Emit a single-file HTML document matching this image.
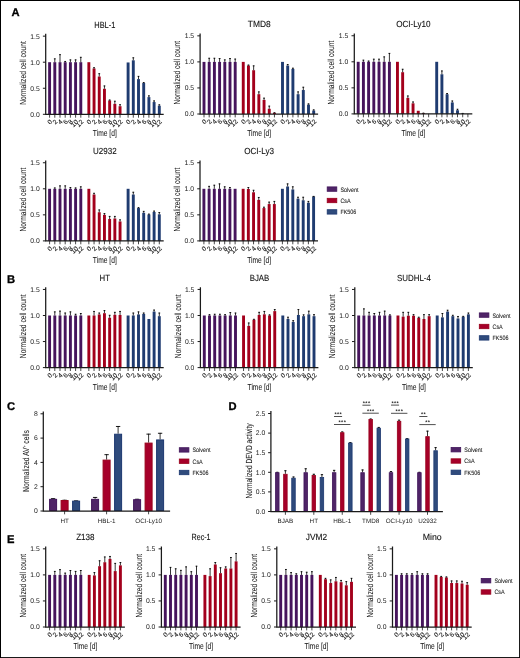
<!DOCTYPE html>
<html><head><meta charset="utf-8"><style>
html,body{margin:0;padding:0;background:#fff;overflow:hidden;}
svg{display:block;will-change:transform;}
text{font-family:"Liberation Sans", sans-serif;fill:#1c1c1c;text-rendering:geometricPrecision;}
.tk{font-size:6.8px;}
.gl{font-size:6.3px;}
.xt{font-size:6.5px;stroke:#1c1c1c;stroke-width:0.12px;}
.ti{font-size:8.9px;fill:#111;stroke:#111;stroke-width:0.1px;}
.al{font-size:8.8px;stroke:#1c1c1c;stroke-width:0.06px;}
.lg{font-size:6.3px;stroke:#1c1c1c;stroke-width:0.08px;}
.pl{font-size:11.2px;font-weight:bold;fill:#000;stroke:#000;stroke-width:0.3px;}
.st{font-size:5.5px;font-weight:bold;fill:#111;letter-spacing:0.45px;}
</style></head><body>
<svg width="520" height="658" viewBox="0 0 520 658">
<rect x="0" y="0" width="520" height="658" fill="#000"/>
<rect x="1" y="1" width="518.1" height="656.1" fill="#fff"/>
<text x="11.4" y="16.3" class="pl">A</text>
<text x="7" y="283.4" class="pl">B</text>
<text x="6.9" y="410" class="pl">C</text>
<text x="228.5" y="410.1" class="pl">D</text>
<text x="7.1" y="542.5" class="pl">E</text>
<rect x="48.15" y="62.2" width="2.9" height="52.1" fill="#46145c"/>
<rect x="53.35" y="62.2" width="2.9" height="52.1" fill="#46145c"/>
<line x1="54.8" y1="58.55" x2="54.8" y2="62.2" stroke="#000" stroke-width="0.8"/>
<line x1="53.9" y1="58.85" x2="55.7" y2="58.85" stroke="#000" stroke-width="0.9"/>
<rect x="58.55" y="62.2" width="2.9" height="52.1" fill="#46145c"/>
<line x1="60" y1="54.38" x2="60" y2="62.2" stroke="#000" stroke-width="0.8"/>
<line x1="59.1" y1="54.68" x2="60.9" y2="54.68" stroke="#000" stroke-width="0.9"/>
<rect x="63.75" y="62.2" width="2.9" height="52.1" fill="#46145c"/>
<line x1="65.2" y1="61.16" x2="65.2" y2="62.2" stroke="#000" stroke-width="0.8"/>
<line x1="64.3" y1="61.46" x2="66.1" y2="61.46" stroke="#000" stroke-width="0.9"/>
<rect x="68.95" y="62.2" width="2.9" height="52.1" fill="#46145c"/>
<line x1="70.4" y1="59.59" x2="70.4" y2="62.2" stroke="#000" stroke-width="0.8"/>
<line x1="69.5" y1="59.89" x2="71.3" y2="59.89" stroke="#000" stroke-width="0.9"/>
<rect x="74.15" y="62.2" width="2.9" height="52.1" fill="#46145c"/>
<line x1="75.6" y1="59.59" x2="75.6" y2="62.2" stroke="#000" stroke-width="0.8"/>
<line x1="74.7" y1="59.89" x2="76.5" y2="59.89" stroke="#000" stroke-width="0.9"/>
<rect x="79.35" y="62.2" width="2.9" height="52.1" fill="#46145c"/>
<line x1="80.8" y1="56.99" x2="80.8" y2="62.2" stroke="#000" stroke-width="0.8"/>
<line x1="79.9" y1="57.29" x2="81.7" y2="57.29" stroke="#000" stroke-width="0.9"/>
<rect x="87.4" y="62.2" width="2.9" height="52.1" fill="#a3001c"/>
<rect x="92.6" y="68.45" width="2.9" height="45.85" fill="#a3001c"/>
<line x1="94.05" y1="67.41" x2="94.05" y2="68.45" stroke="#000" stroke-width="0.8"/>
<line x1="93.15" y1="67.71" x2="94.95" y2="67.71" stroke="#000" stroke-width="0.9"/>
<rect x="97.8" y="76.53" width="2.9" height="37.77" fill="#a3001c"/>
<line x1="99.25" y1="73.4" x2="99.25" y2="76.53" stroke="#000" stroke-width="0.8"/>
<line x1="98.35" y1="73.7" x2="100.15" y2="73.7" stroke="#000" stroke-width="0.9"/>
<rect x="103" y="88.77" width="2.9" height="25.53" fill="#a3001c"/>
<line x1="104.45" y1="85.64" x2="104.45" y2="88.77" stroke="#000" stroke-width="0.8"/>
<line x1="103.55" y1="85.94" x2="105.35" y2="85.94" stroke="#000" stroke-width="0.9"/>
<rect x="108.2" y="100.49" width="2.9" height="13.81" fill="#a3001c"/>
<line x1="109.65" y1="99.71" x2="109.65" y2="100.49" stroke="#000" stroke-width="0.8"/>
<line x1="108.75" y1="100.01" x2="110.55" y2="100.01" stroke="#000" stroke-width="0.9"/>
<rect x="113.4" y="103.88" width="2.9" height="10.42" fill="#a3001c"/>
<line x1="114.85" y1="100.91" x2="114.85" y2="103.88" stroke="#000" stroke-width="0.8"/>
<line x1="113.95" y1="101.21" x2="115.75" y2="101.21" stroke="#000" stroke-width="0.9"/>
<rect x="118.6" y="106.22" width="2.9" height="8.08" fill="#a3001c"/>
<line x1="120.05" y1="104.4" x2="120.05" y2="106.22" stroke="#000" stroke-width="0.8"/>
<line x1="119.15" y1="104.7" x2="120.95" y2="104.7" stroke="#000" stroke-width="0.9"/>
<rect x="126.65" y="62.46" width="2.9" height="51.84" fill="#1f3b70"/>
<rect x="131.85" y="60.32" width="2.9" height="53.98" fill="#1f3b70"/>
<line x1="133.3" y1="57.51" x2="133.3" y2="60.32" stroke="#000" stroke-width="0.8"/>
<line x1="132.4" y1="57.81" x2="134.2" y2="57.81" stroke="#000" stroke-width="0.9"/>
<rect x="137.05" y="79.13" width="2.9" height="35.17" fill="#1f3b70"/>
<line x1="138.5" y1="76.06" x2="138.5" y2="79.13" stroke="#000" stroke-width="0.8"/>
<line x1="137.6" y1="76.36" x2="139.4" y2="76.36" stroke="#000" stroke-width="0.9"/>
<rect x="142.25" y="83.04" width="2.9" height="31.26" fill="#1f3b70"/>
<line x1="143.7" y1="82.26" x2="143.7" y2="83.04" stroke="#000" stroke-width="0.8"/>
<line x1="142.8" y1="82.56" x2="144.6" y2="82.56" stroke="#000" stroke-width="0.9"/>
<rect x="147.45" y="97.11" width="2.9" height="17.19" fill="#1f3b70"/>
<line x1="148.9" y1="95.54" x2="148.9" y2="97.11" stroke="#000" stroke-width="0.8"/>
<line x1="148" y1="95.84" x2="149.8" y2="95.84" stroke="#000" stroke-width="0.9"/>
<rect x="152.65" y="102.06" width="2.9" height="12.24" fill="#1f3b70"/>
<line x1="154.1" y1="100.6" x2="154.1" y2="102.06" stroke="#000" stroke-width="0.8"/>
<line x1="153.2" y1="100.9" x2="155" y2="100.9" stroke="#000" stroke-width="0.9"/>
<rect x="157.85" y="105.7" width="2.9" height="8.6" fill="#1f3b70"/>
<line x1="159.3" y1="104.51" x2="159.3" y2="105.7" stroke="#000" stroke-width="0.8"/>
<line x1="158.4" y1="104.81" x2="160.2" y2="104.81" stroke="#000" stroke-width="0.9"/>
<path d="M45.7 33.85V114.3H163.7" fill="none" stroke="#1a1a1a" stroke-width="1.25"/>
<line x1="42.9" y1="114.3" x2="45.7" y2="114.3" stroke="#1a1a1a" stroke-width="1"/>
<text x="39.7" y="116.7" class="tk" text-anchor="end">0.0</text>
<line x1="42.9" y1="88.25" x2="45.7" y2="88.25" stroke="#1a1a1a" stroke-width="1"/>
<text x="39.7" y="90.65" class="tk" text-anchor="end">0.5</text>
<line x1="42.9" y1="62.2" x2="45.7" y2="62.2" stroke="#1a1a1a" stroke-width="1"/>
<text x="39.7" y="64.6" class="tk" text-anchor="end">1.0</text>
<line x1="42.9" y1="36.15" x2="45.7" y2="36.15" stroke="#1a1a1a" stroke-width="1"/>
<text x="39.7" y="38.55" class="tk" text-anchor="end">1.5</text>
<line x1="49.6" y1="114.3" x2="49.6" y2="117.7" stroke="#1a1a1a" stroke-width="0.8"/>
<text class="xt" text-anchor="end" transform="translate(52.6 122.3) rotate(-45)">0</text>
<line x1="54.8" y1="114.3" x2="54.8" y2="117.7" stroke="#1a1a1a" stroke-width="0.8"/>
<text class="xt" text-anchor="end" transform="translate(57.8 122.3) rotate(-45)">2</text>
<line x1="60" y1="114.3" x2="60" y2="117.7" stroke="#1a1a1a" stroke-width="0.8"/>
<text class="xt" text-anchor="end" transform="translate(63 122.3) rotate(-45)">4</text>
<line x1="65.2" y1="114.3" x2="65.2" y2="117.7" stroke="#1a1a1a" stroke-width="0.8"/>
<text class="xt" text-anchor="end" transform="translate(68.2 122.3) rotate(-45)">6</text>
<line x1="70.4" y1="114.3" x2="70.4" y2="117.7" stroke="#1a1a1a" stroke-width="0.8"/>
<text class="xt" text-anchor="end" transform="translate(73.4 122.3) rotate(-45)">8</text>
<line x1="75.6" y1="114.3" x2="75.6" y2="117.7" stroke="#1a1a1a" stroke-width="0.8"/>
<text class="xt" text-anchor="end" transform="translate(78.6 122.3) rotate(-45)">10</text>
<line x1="80.8" y1="114.3" x2="80.8" y2="117.7" stroke="#1a1a1a" stroke-width="0.8"/>
<text class="xt" text-anchor="end" transform="translate(83.8 122.3) rotate(-45)">12</text>
<line x1="88.85" y1="114.3" x2="88.85" y2="117.7" stroke="#1a1a1a" stroke-width="0.8"/>
<text class="xt" text-anchor="end" transform="translate(91.85 122.3) rotate(-45)">0</text>
<line x1="94.05" y1="114.3" x2="94.05" y2="117.7" stroke="#1a1a1a" stroke-width="0.8"/>
<text class="xt" text-anchor="end" transform="translate(97.05 122.3) rotate(-45)">2</text>
<line x1="99.25" y1="114.3" x2="99.25" y2="117.7" stroke="#1a1a1a" stroke-width="0.8"/>
<text class="xt" text-anchor="end" transform="translate(102.25 122.3) rotate(-45)">4</text>
<line x1="104.45" y1="114.3" x2="104.45" y2="117.7" stroke="#1a1a1a" stroke-width="0.8"/>
<text class="xt" text-anchor="end" transform="translate(107.45 122.3) rotate(-45)">6</text>
<line x1="109.65" y1="114.3" x2="109.65" y2="117.7" stroke="#1a1a1a" stroke-width="0.8"/>
<text class="xt" text-anchor="end" transform="translate(112.65 122.3) rotate(-45)">8</text>
<line x1="114.85" y1="114.3" x2="114.85" y2="117.7" stroke="#1a1a1a" stroke-width="0.8"/>
<text class="xt" text-anchor="end" transform="translate(117.85 122.3) rotate(-45)">10</text>
<line x1="120.05" y1="114.3" x2="120.05" y2="117.7" stroke="#1a1a1a" stroke-width="0.8"/>
<text class="xt" text-anchor="end" transform="translate(123.05 122.3) rotate(-45)">12</text>
<line x1="128.1" y1="114.3" x2="128.1" y2="117.7" stroke="#1a1a1a" stroke-width="0.8"/>
<text class="xt" text-anchor="end" transform="translate(131.1 122.3) rotate(-45)">0</text>
<line x1="133.3" y1="114.3" x2="133.3" y2="117.7" stroke="#1a1a1a" stroke-width="0.8"/>
<text class="xt" text-anchor="end" transform="translate(136.3 122.3) rotate(-45)">2</text>
<line x1="138.5" y1="114.3" x2="138.5" y2="117.7" stroke="#1a1a1a" stroke-width="0.8"/>
<text class="xt" text-anchor="end" transform="translate(141.5 122.3) rotate(-45)">4</text>
<line x1="143.7" y1="114.3" x2="143.7" y2="117.7" stroke="#1a1a1a" stroke-width="0.8"/>
<text class="xt" text-anchor="end" transform="translate(146.7 122.3) rotate(-45)">6</text>
<line x1="148.9" y1="114.3" x2="148.9" y2="117.7" stroke="#1a1a1a" stroke-width="0.8"/>
<text class="xt" text-anchor="end" transform="translate(151.9 122.3) rotate(-45)">8</text>
<line x1="154.1" y1="114.3" x2="154.1" y2="117.7" stroke="#1a1a1a" stroke-width="0.8"/>
<text class="xt" text-anchor="end" transform="translate(157.1 122.3) rotate(-45)">10</text>
<line x1="159.3" y1="114.3" x2="159.3" y2="117.7" stroke="#1a1a1a" stroke-width="0.8"/>
<text class="xt" text-anchor="end" transform="translate(162.3 122.3) rotate(-45)">12</text>
<text class="ti" x="104.8" y="27.7" text-anchor="middle" textLength="21.1" lengthAdjust="spacingAndGlyphs">HBL-1</text>
<text x="104.8" y="136.3" class="al" text-anchor="middle" textLength="23.9" lengthAdjust="spacingAndGlyphs">Time [d]</text>
<text class="al" text-anchor="middle" textLength="63.7" lengthAdjust="spacingAndGlyphs" transform="translate(25.8 73) rotate(-90)">Normalized cell count</text>
<rect x="202.55" y="61.9" width="2.9" height="52.1" fill="#46145c"/>
<rect x="207.75" y="61.9" width="2.9" height="52.1" fill="#46145c"/>
<line x1="209.2" y1="57.94" x2="209.2" y2="61.9" stroke="#000" stroke-width="0.8"/>
<line x1="208.3" y1="58.24" x2="210.1" y2="58.24" stroke="#000" stroke-width="0.9"/>
<rect x="212.95" y="61.9" width="2.9" height="52.1" fill="#46145c"/>
<line x1="214.4" y1="57.94" x2="214.4" y2="61.9" stroke="#000" stroke-width="0.8"/>
<line x1="213.5" y1="58.24" x2="215.3" y2="58.24" stroke="#000" stroke-width="0.9"/>
<rect x="218.15" y="61.9" width="2.9" height="52.1" fill="#46145c"/>
<line x1="219.6" y1="58.25" x2="219.6" y2="61.9" stroke="#000" stroke-width="0.8"/>
<line x1="218.7" y1="58.55" x2="220.5" y2="58.55" stroke="#000" stroke-width="0.9"/>
<rect x="223.35" y="61.9" width="2.9" height="52.1" fill="#46145c"/>
<line x1="224.8" y1="59.56" x2="224.8" y2="61.9" stroke="#000" stroke-width="0.8"/>
<line x1="223.9" y1="59.86" x2="225.7" y2="59.86" stroke="#000" stroke-width="0.9"/>
<rect x="228.55" y="61.9" width="2.9" height="52.1" fill="#46145c"/>
<line x1="230" y1="58.25" x2="230" y2="61.9" stroke="#000" stroke-width="0.8"/>
<line x1="229.1" y1="58.55" x2="230.9" y2="58.55" stroke="#000" stroke-width="0.9"/>
<rect x="233.75" y="61.9" width="2.9" height="52.1" fill="#46145c"/>
<line x1="235.2" y1="58.77" x2="235.2" y2="61.9" stroke="#000" stroke-width="0.8"/>
<line x1="234.3" y1="59.07" x2="236.1" y2="59.07" stroke="#000" stroke-width="0.9"/>
<rect x="241.8" y="61.9" width="2.9" height="52.1" fill="#a3001c"/>
<rect x="247" y="65.55" width="2.9" height="48.45" fill="#a3001c"/>
<line x1="248.45" y1="64.77" x2="248.45" y2="65.55" stroke="#000" stroke-width="0.8"/>
<line x1="247.55" y1="65.07" x2="249.35" y2="65.07" stroke="#000" stroke-width="0.9"/>
<rect x="252.2" y="70.24" width="2.9" height="43.76" fill="#a3001c"/>
<line x1="253.65" y1="65.55" x2="253.65" y2="70.24" stroke="#000" stroke-width="0.8"/>
<line x1="252.75" y1="65.85" x2="254.55" y2="65.85" stroke="#000" stroke-width="0.9"/>
<rect x="257.4" y="94.2" width="2.9" height="19.8" fill="#a3001c"/>
<line x1="258.85" y1="91.6" x2="258.85" y2="94.2" stroke="#000" stroke-width="0.8"/>
<line x1="257.95" y1="91.9" x2="259.75" y2="91.9" stroke="#000" stroke-width="0.9"/>
<rect x="262.6" y="99.93" width="2.9" height="14.07" fill="#a3001c"/>
<line x1="264.05" y1="97.85" x2="264.05" y2="99.93" stroke="#000" stroke-width="0.8"/>
<line x1="263.15" y1="98.15" x2="264.95" y2="98.15" stroke="#000" stroke-width="0.9"/>
<rect x="267.8" y="108.79" width="2.9" height="5.21" fill="#a3001c"/>
<line x1="269.25" y1="105.82" x2="269.25" y2="108.79" stroke="#000" stroke-width="0.8"/>
<line x1="268.35" y1="106.12" x2="270.15" y2="106.12" stroke="#000" stroke-width="0.9"/>
<rect x="273" y="112.85" width="2.9" height="1.15" fill="#a3001c"/>
<line x1="274.45" y1="112.44" x2="274.45" y2="112.85" stroke="#000" stroke-width="0.8"/>
<line x1="273.55" y1="112.74" x2="275.35" y2="112.74" stroke="#000" stroke-width="0.9"/>
<rect x="281.05" y="61.9" width="2.9" height="52.1" fill="#1f3b70"/>
<rect x="286.25" y="65.55" width="2.9" height="48.45" fill="#1f3b70"/>
<line x1="287.7" y1="64.24" x2="287.7" y2="65.55" stroke="#000" stroke-width="0.8"/>
<line x1="286.8" y1="64.54" x2="288.6" y2="64.54" stroke="#000" stroke-width="0.9"/>
<rect x="291.45" y="68.88" width="2.9" height="45.12" fill="#1f3b70"/>
<line x1="292.9" y1="67.89" x2="292.9" y2="68.88" stroke="#000" stroke-width="0.8"/>
<line x1="292" y1="68.19" x2="293.8" y2="68.19" stroke="#000" stroke-width="0.9"/>
<rect x="296.65" y="94.2" width="2.9" height="19.8" fill="#1f3b70"/>
<line x1="298.1" y1="91.6" x2="298.1" y2="94.2" stroke="#000" stroke-width="0.8"/>
<line x1="297.2" y1="91.9" x2="299" y2="91.9" stroke="#000" stroke-width="0.9"/>
<rect x="301.85" y="90.03" width="2.9" height="23.97" fill="#1f3b70"/>
<line x1="303.3" y1="86.91" x2="303.3" y2="90.03" stroke="#000" stroke-width="0.8"/>
<line x1="302.4" y1="87.21" x2="304.2" y2="87.21" stroke="#000" stroke-width="0.9"/>
<rect x="307.05" y="104.62" width="2.9" height="9.38" fill="#1f3b70"/>
<line x1="308.5" y1="103.58" x2="308.5" y2="104.62" stroke="#000" stroke-width="0.8"/>
<line x1="307.6" y1="103.88" x2="309.4" y2="103.88" stroke="#000" stroke-width="0.9"/>
<rect x="312.25" y="110.51" width="2.9" height="3.49" fill="#1f3b70"/>
<line x1="313.7" y1="109.57" x2="313.7" y2="110.51" stroke="#000" stroke-width="0.8"/>
<line x1="312.8" y1="109.87" x2="314.6" y2="109.87" stroke="#000" stroke-width="0.9"/>
<path d="M200.1 33.55V114H318.1" fill="none" stroke="#1a1a1a" stroke-width="1.25"/>
<line x1="197.3" y1="114" x2="200.1" y2="114" stroke="#1a1a1a" stroke-width="1"/>
<text x="194.1" y="116.4" class="tk" text-anchor="end">0.0</text>
<line x1="197.3" y1="87.95" x2="200.1" y2="87.95" stroke="#1a1a1a" stroke-width="1"/>
<text x="194.1" y="90.35" class="tk" text-anchor="end">0.5</text>
<line x1="197.3" y1="61.9" x2="200.1" y2="61.9" stroke="#1a1a1a" stroke-width="1"/>
<text x="194.1" y="64.3" class="tk" text-anchor="end">1.0</text>
<line x1="197.3" y1="35.85" x2="200.1" y2="35.85" stroke="#1a1a1a" stroke-width="1"/>
<text x="194.1" y="38.25" class="tk" text-anchor="end">1.5</text>
<line x1="204" y1="114" x2="204" y2="117.4" stroke="#1a1a1a" stroke-width="0.8"/>
<text class="xt" text-anchor="end" transform="translate(207 122) rotate(-45)">0</text>
<line x1="209.2" y1="114" x2="209.2" y2="117.4" stroke="#1a1a1a" stroke-width="0.8"/>
<text class="xt" text-anchor="end" transform="translate(212.2 122) rotate(-45)">2</text>
<line x1="214.4" y1="114" x2="214.4" y2="117.4" stroke="#1a1a1a" stroke-width="0.8"/>
<text class="xt" text-anchor="end" transform="translate(217.4 122) rotate(-45)">4</text>
<line x1="219.6" y1="114" x2="219.6" y2="117.4" stroke="#1a1a1a" stroke-width="0.8"/>
<text class="xt" text-anchor="end" transform="translate(222.6 122) rotate(-45)">6</text>
<line x1="224.8" y1="114" x2="224.8" y2="117.4" stroke="#1a1a1a" stroke-width="0.8"/>
<text class="xt" text-anchor="end" transform="translate(227.8 122) rotate(-45)">8</text>
<line x1="230" y1="114" x2="230" y2="117.4" stroke="#1a1a1a" stroke-width="0.8"/>
<text class="xt" text-anchor="end" transform="translate(233 122) rotate(-45)">10</text>
<line x1="235.2" y1="114" x2="235.2" y2="117.4" stroke="#1a1a1a" stroke-width="0.8"/>
<text class="xt" text-anchor="end" transform="translate(238.2 122) rotate(-45)">12</text>
<line x1="243.25" y1="114" x2="243.25" y2="117.4" stroke="#1a1a1a" stroke-width="0.8"/>
<text class="xt" text-anchor="end" transform="translate(246.25 122) rotate(-45)">0</text>
<line x1="248.45" y1="114" x2="248.45" y2="117.4" stroke="#1a1a1a" stroke-width="0.8"/>
<text class="xt" text-anchor="end" transform="translate(251.45 122) rotate(-45)">2</text>
<line x1="253.65" y1="114" x2="253.65" y2="117.4" stroke="#1a1a1a" stroke-width="0.8"/>
<text class="xt" text-anchor="end" transform="translate(256.65 122) rotate(-45)">4</text>
<line x1="258.85" y1="114" x2="258.85" y2="117.4" stroke="#1a1a1a" stroke-width="0.8"/>
<text class="xt" text-anchor="end" transform="translate(261.85 122) rotate(-45)">6</text>
<line x1="264.05" y1="114" x2="264.05" y2="117.4" stroke="#1a1a1a" stroke-width="0.8"/>
<text class="xt" text-anchor="end" transform="translate(267.05 122) rotate(-45)">8</text>
<line x1="269.25" y1="114" x2="269.25" y2="117.4" stroke="#1a1a1a" stroke-width="0.8"/>
<text class="xt" text-anchor="end" transform="translate(272.25 122) rotate(-45)">10</text>
<line x1="274.45" y1="114" x2="274.45" y2="117.4" stroke="#1a1a1a" stroke-width="0.8"/>
<text class="xt" text-anchor="end" transform="translate(277.45 122) rotate(-45)">12</text>
<line x1="282.5" y1="114" x2="282.5" y2="117.4" stroke="#1a1a1a" stroke-width="0.8"/>
<text class="xt" text-anchor="end" transform="translate(285.5 122) rotate(-45)">0</text>
<line x1="287.7" y1="114" x2="287.7" y2="117.4" stroke="#1a1a1a" stroke-width="0.8"/>
<text class="xt" text-anchor="end" transform="translate(290.7 122) rotate(-45)">2</text>
<line x1="292.9" y1="114" x2="292.9" y2="117.4" stroke="#1a1a1a" stroke-width="0.8"/>
<text class="xt" text-anchor="end" transform="translate(295.9 122) rotate(-45)">4</text>
<line x1="298.1" y1="114" x2="298.1" y2="117.4" stroke="#1a1a1a" stroke-width="0.8"/>
<text class="xt" text-anchor="end" transform="translate(301.1 122) rotate(-45)">6</text>
<line x1="303.3" y1="114" x2="303.3" y2="117.4" stroke="#1a1a1a" stroke-width="0.8"/>
<text class="xt" text-anchor="end" transform="translate(306.3 122) rotate(-45)">8</text>
<line x1="308.5" y1="114" x2="308.5" y2="117.4" stroke="#1a1a1a" stroke-width="0.8"/>
<text class="xt" text-anchor="end" transform="translate(311.5 122) rotate(-45)">10</text>
<line x1="313.7" y1="114" x2="313.7" y2="117.4" stroke="#1a1a1a" stroke-width="0.8"/>
<text class="xt" text-anchor="end" transform="translate(316.7 122) rotate(-45)">12</text>
<text class="ti" x="259.2" y="27.4" text-anchor="middle" textLength="22.9" lengthAdjust="spacingAndGlyphs">TMD8</text>
<text x="259.2" y="136" class="al" text-anchor="middle" textLength="23.9" lengthAdjust="spacingAndGlyphs">Time [d]</text>
<text class="al" text-anchor="middle" textLength="63.7" lengthAdjust="spacingAndGlyphs" transform="translate(180.2 72.7) rotate(-90)">Normalized cell count</text>
<rect x="356.75" y="61.8" width="2.9" height="52.1" fill="#46145c"/>
<rect x="361.95" y="61.8" width="2.9" height="52.1" fill="#46145c"/>
<line x1="363.4" y1="59.87" x2="363.4" y2="61.8" stroke="#000" stroke-width="0.8"/>
<line x1="362.5" y1="60.17" x2="364.3" y2="60.17" stroke="#000" stroke-width="0.9"/>
<rect x="367.15" y="61.8" width="2.9" height="52.1" fill="#46145c"/>
<line x1="368.6" y1="60.76" x2="368.6" y2="61.8" stroke="#000" stroke-width="0.8"/>
<line x1="367.7" y1="61.06" x2="369.5" y2="61.06" stroke="#000" stroke-width="0.9"/>
<rect x="372.35" y="61.8" width="2.9" height="52.1" fill="#46145c"/>
<line x1="373.8" y1="58.88" x2="373.8" y2="61.8" stroke="#000" stroke-width="0.8"/>
<line x1="372.9" y1="59.18" x2="374.7" y2="59.18" stroke="#000" stroke-width="0.9"/>
<rect x="377.55" y="61.8" width="2.9" height="52.1" fill="#46145c"/>
<line x1="379" y1="58.88" x2="379" y2="61.8" stroke="#000" stroke-width="0.8"/>
<line x1="378.1" y1="59.18" x2="379.9" y2="59.18" stroke="#000" stroke-width="0.9"/>
<rect x="382.75" y="61.8" width="2.9" height="52.1" fill="#46145c"/>
<line x1="384.2" y1="56.59" x2="384.2" y2="61.8" stroke="#000" stroke-width="0.8"/>
<line x1="383.3" y1="56.89" x2="385.1" y2="56.89" stroke="#000" stroke-width="0.9"/>
<rect x="387.95" y="61.8" width="2.9" height="52.1" fill="#46145c"/>
<line x1="389.4" y1="53.1" x2="389.4" y2="61.8" stroke="#000" stroke-width="0.8"/>
<line x1="388.5" y1="53.4" x2="390.3" y2="53.4" stroke="#000" stroke-width="0.9"/>
<rect x="396" y="61.8" width="2.9" height="52.1" fill="#a3001c"/>
<rect x="401.2" y="72.22" width="2.9" height="41.68" fill="#a3001c"/>
<line x1="402.65" y1="68.94" x2="402.65" y2="72.22" stroke="#000" stroke-width="0.8"/>
<line x1="401.75" y1="69.24" x2="403.55" y2="69.24" stroke="#000" stroke-width="0.9"/>
<rect x="406.4" y="97.85" width="2.9" height="16.05" fill="#a3001c"/>
<line x1="407.85" y1="95.67" x2="407.85" y2="97.85" stroke="#000" stroke-width="0.8"/>
<line x1="406.95" y1="95.97" x2="408.75" y2="95.97" stroke="#000" stroke-width="0.9"/>
<rect x="411.6" y="103.32" width="2.9" height="10.58" fill="#a3001c"/>
<line x1="413.05" y1="101.66" x2="413.05" y2="103.32" stroke="#000" stroke-width="0.8"/>
<line x1="412.15" y1="101.96" x2="413.95" y2="101.96" stroke="#000" stroke-width="0.9"/>
<rect x="416.8" y="110.77" width="2.9" height="3.13" fill="#a3001c"/>
<rect x="422" y="113.07" width="2.9" height="0.83" fill="#a3001c"/>
<line x1="423.45" y1="112.86" x2="423.45" y2="113.07" stroke="#000" stroke-width="0.8"/>
<line x1="422.55" y1="113.16" x2="424.35" y2="113.16" stroke="#000" stroke-width="0.9"/>
<rect x="435.25" y="61.8" width="2.9" height="52.1" fill="#1f3b70"/>
<rect x="440.45" y="74.3" width="2.9" height="39.6" fill="#1f3b70"/>
<line x1="441.9" y1="70.66" x2="441.9" y2="74.3" stroke="#000" stroke-width="0.8"/>
<line x1="441" y1="70.96" x2="442.8" y2="70.96" stroke="#000" stroke-width="0.9"/>
<rect x="445.65" y="94.21" width="2.9" height="19.69" fill="#1f3b70"/>
<line x1="447.1" y1="93.22" x2="447.1" y2="94.21" stroke="#000" stroke-width="0.8"/>
<line x1="446.2" y1="93.52" x2="448" y2="93.52" stroke="#000" stroke-width="0.9"/>
<rect x="450.85" y="102.44" width="2.9" height="11.46" fill="#1f3b70"/>
<line x1="452.3" y1="100.67" x2="452.3" y2="102.44" stroke="#000" stroke-width="0.8"/>
<line x1="451.4" y1="100.97" x2="453.2" y2="100.97" stroke="#000" stroke-width="0.9"/>
<rect x="456.05" y="110.25" width="2.9" height="3.65" fill="#1f3b70"/>
<line x1="457.5" y1="108.95" x2="457.5" y2="110.25" stroke="#000" stroke-width="0.8"/>
<line x1="456.6" y1="109.25" x2="458.4" y2="109.25" stroke="#000" stroke-width="0.9"/>
<rect x="461.25" y="113.48" width="2.9" height="0.42" fill="#1f3b70"/>
<line x1="462.7" y1="113.12" x2="462.7" y2="113.48" stroke="#000" stroke-width="0.8"/>
<line x1="461.8" y1="113.42" x2="463.6" y2="113.42" stroke="#000" stroke-width="0.9"/>
<path d="M354.3 33.45V113.9H472.3" fill="none" stroke="#1a1a1a" stroke-width="1.25"/>
<line x1="351.5" y1="113.9" x2="354.3" y2="113.9" stroke="#1a1a1a" stroke-width="1"/>
<text x="348.3" y="116.3" class="tk" text-anchor="end">0.0</text>
<line x1="351.5" y1="87.85" x2="354.3" y2="87.85" stroke="#1a1a1a" stroke-width="1"/>
<text x="348.3" y="90.25" class="tk" text-anchor="end">0.5</text>
<line x1="351.5" y1="61.8" x2="354.3" y2="61.8" stroke="#1a1a1a" stroke-width="1"/>
<text x="348.3" y="64.2" class="tk" text-anchor="end">1.0</text>
<line x1="351.5" y1="35.75" x2="354.3" y2="35.75" stroke="#1a1a1a" stroke-width="1"/>
<text x="348.3" y="38.15" class="tk" text-anchor="end">1.5</text>
<line x1="358.2" y1="113.9" x2="358.2" y2="117.3" stroke="#1a1a1a" stroke-width="0.8"/>
<text class="xt" text-anchor="end" transform="translate(361.2 121.9) rotate(-45)">0</text>
<line x1="363.4" y1="113.9" x2="363.4" y2="117.3" stroke="#1a1a1a" stroke-width="0.8"/>
<text class="xt" text-anchor="end" transform="translate(366.4 121.9) rotate(-45)">2</text>
<line x1="368.6" y1="113.9" x2="368.6" y2="117.3" stroke="#1a1a1a" stroke-width="0.8"/>
<text class="xt" text-anchor="end" transform="translate(371.6 121.9) rotate(-45)">4</text>
<line x1="373.8" y1="113.9" x2="373.8" y2="117.3" stroke="#1a1a1a" stroke-width="0.8"/>
<text class="xt" text-anchor="end" transform="translate(376.8 121.9) rotate(-45)">6</text>
<line x1="379" y1="113.9" x2="379" y2="117.3" stroke="#1a1a1a" stroke-width="0.8"/>
<text class="xt" text-anchor="end" transform="translate(382 121.9) rotate(-45)">8</text>
<line x1="384.2" y1="113.9" x2="384.2" y2="117.3" stroke="#1a1a1a" stroke-width="0.8"/>
<text class="xt" text-anchor="end" transform="translate(387.2 121.9) rotate(-45)">10</text>
<line x1="389.4" y1="113.9" x2="389.4" y2="117.3" stroke="#1a1a1a" stroke-width="0.8"/>
<text class="xt" text-anchor="end" transform="translate(392.4 121.9) rotate(-45)">12</text>
<line x1="397.45" y1="113.9" x2="397.45" y2="117.3" stroke="#1a1a1a" stroke-width="0.8"/>
<text class="xt" text-anchor="end" transform="translate(400.45 121.9) rotate(-45)">0</text>
<line x1="402.65" y1="113.9" x2="402.65" y2="117.3" stroke="#1a1a1a" stroke-width="0.8"/>
<text class="xt" text-anchor="end" transform="translate(405.65 121.9) rotate(-45)">2</text>
<line x1="407.85" y1="113.9" x2="407.85" y2="117.3" stroke="#1a1a1a" stroke-width="0.8"/>
<text class="xt" text-anchor="end" transform="translate(410.85 121.9) rotate(-45)">4</text>
<line x1="413.05" y1="113.9" x2="413.05" y2="117.3" stroke="#1a1a1a" stroke-width="0.8"/>
<text class="xt" text-anchor="end" transform="translate(416.05 121.9) rotate(-45)">6</text>
<line x1="418.25" y1="113.9" x2="418.25" y2="117.3" stroke="#1a1a1a" stroke-width="0.8"/>
<text class="xt" text-anchor="end" transform="translate(421.25 121.9) rotate(-45)">8</text>
<line x1="423.45" y1="113.9" x2="423.45" y2="117.3" stroke="#1a1a1a" stroke-width="0.8"/>
<text class="xt" text-anchor="end" transform="translate(426.45 121.9) rotate(-45)">10</text>
<line x1="428.65" y1="113.9" x2="428.65" y2="117.3" stroke="#1a1a1a" stroke-width="0.8"/>
<text class="xt" text-anchor="end" transform="translate(431.65 121.9) rotate(-45)">12</text>
<line x1="436.7" y1="113.9" x2="436.7" y2="117.3" stroke="#1a1a1a" stroke-width="0.8"/>
<text class="xt" text-anchor="end" transform="translate(439.7 121.9) rotate(-45)">0</text>
<line x1="441.9" y1="113.9" x2="441.9" y2="117.3" stroke="#1a1a1a" stroke-width="0.8"/>
<text class="xt" text-anchor="end" transform="translate(444.9 121.9) rotate(-45)">2</text>
<line x1="447.1" y1="113.9" x2="447.1" y2="117.3" stroke="#1a1a1a" stroke-width="0.8"/>
<text class="xt" text-anchor="end" transform="translate(450.1 121.9) rotate(-45)">4</text>
<line x1="452.3" y1="113.9" x2="452.3" y2="117.3" stroke="#1a1a1a" stroke-width="0.8"/>
<text class="xt" text-anchor="end" transform="translate(455.3 121.9) rotate(-45)">6</text>
<line x1="457.5" y1="113.9" x2="457.5" y2="117.3" stroke="#1a1a1a" stroke-width="0.8"/>
<text class="xt" text-anchor="end" transform="translate(460.5 121.9) rotate(-45)">8</text>
<line x1="462.7" y1="113.9" x2="462.7" y2="117.3" stroke="#1a1a1a" stroke-width="0.8"/>
<text class="xt" text-anchor="end" transform="translate(465.7 121.9) rotate(-45)">10</text>
<line x1="467.9" y1="113.9" x2="467.9" y2="117.3" stroke="#1a1a1a" stroke-width="0.8"/>
<text class="xt" text-anchor="end" transform="translate(470.9 121.9) rotate(-45)">12</text>
<text class="ti" x="413.4" y="27.3" text-anchor="middle" textLength="34.5" lengthAdjust="spacingAndGlyphs">OCI-Ly10</text>
<text x="413.4" y="135.9" class="al" text-anchor="middle" textLength="23.9" lengthAdjust="spacingAndGlyphs">Time [d]</text>
<text class="al" text-anchor="middle" textLength="63.7" lengthAdjust="spacingAndGlyphs" transform="translate(334.4 72.6) rotate(-90)">Normalized cell count</text>
<rect x="48.15" y="188.8" width="2.9" height="52.1" fill="#46145c"/>
<rect x="53.35" y="188.8" width="2.9" height="52.1" fill="#46145c"/>
<line x1="54.8" y1="187.65" x2="54.8" y2="188.8" stroke="#000" stroke-width="0.8"/>
<line x1="53.9" y1="187.95" x2="55.7" y2="187.95" stroke="#000" stroke-width="0.9"/>
<rect x="58.55" y="188.8" width="2.9" height="52.1" fill="#46145c"/>
<line x1="60" y1="185.57" x2="60" y2="188.8" stroke="#000" stroke-width="0.8"/>
<line x1="59.1" y1="185.87" x2="60.9" y2="185.87" stroke="#000" stroke-width="0.9"/>
<rect x="63.75" y="188.8" width="2.9" height="52.1" fill="#46145c"/>
<line x1="65.2" y1="185.57" x2="65.2" y2="188.8" stroke="#000" stroke-width="0.8"/>
<line x1="64.3" y1="185.87" x2="66.1" y2="185.87" stroke="#000" stroke-width="0.9"/>
<rect x="68.95" y="188.8" width="2.9" height="52.1" fill="#46145c"/>
<line x1="70.4" y1="187.24" x2="70.4" y2="188.8" stroke="#000" stroke-width="0.8"/>
<line x1="69.5" y1="187.54" x2="71.3" y2="187.54" stroke="#000" stroke-width="0.9"/>
<rect x="74.15" y="188.8" width="2.9" height="52.1" fill="#46145c"/>
<line x1="75.6" y1="187.65" x2="75.6" y2="188.8" stroke="#000" stroke-width="0.8"/>
<line x1="74.7" y1="187.95" x2="76.5" y2="187.95" stroke="#000" stroke-width="0.9"/>
<rect x="79.35" y="188.8" width="2.9" height="52.1" fill="#46145c"/>
<line x1="80.8" y1="186.51" x2="80.8" y2="188.8" stroke="#000" stroke-width="0.8"/>
<line x1="79.9" y1="186.81" x2="81.7" y2="186.81" stroke="#000" stroke-width="0.9"/>
<rect x="87.4" y="188.8" width="2.9" height="52.1" fill="#a3001c"/>
<rect x="92.6" y="194.53" width="2.9" height="46.37" fill="#a3001c"/>
<line x1="94.05" y1="192.97" x2="94.05" y2="194.53" stroke="#000" stroke-width="0.8"/>
<line x1="93.15" y1="193.27" x2="94.95" y2="193.27" stroke="#000" stroke-width="0.9"/>
<rect x="97.8" y="212.25" width="2.9" height="28.66" fill="#a3001c"/>
<line x1="99.25" y1="209.64" x2="99.25" y2="212.25" stroke="#000" stroke-width="0.8"/>
<line x1="98.35" y1="209.94" x2="100.15" y2="209.94" stroke="#000" stroke-width="0.9"/>
<rect x="103" y="214.85" width="2.9" height="26.05" fill="#a3001c"/>
<line x1="104.45" y1="213.29" x2="104.45" y2="214.85" stroke="#000" stroke-width="0.8"/>
<line x1="103.55" y1="213.59" x2="105.35" y2="213.59" stroke="#000" stroke-width="0.9"/>
<rect x="108.2" y="219.02" width="2.9" height="21.88" fill="#a3001c"/>
<line x1="109.65" y1="216.1" x2="109.65" y2="219.02" stroke="#000" stroke-width="0.8"/>
<line x1="108.75" y1="216.4" x2="110.55" y2="216.4" stroke="#000" stroke-width="0.9"/>
<rect x="113.4" y="218.5" width="2.9" height="22.4" fill="#a3001c"/>
<line x1="114.85" y1="216.1" x2="114.85" y2="218.5" stroke="#000" stroke-width="0.8"/>
<line x1="113.95" y1="216.4" x2="115.75" y2="216.4" stroke="#000" stroke-width="0.9"/>
<rect x="118.6" y="221.47" width="2.9" height="19.43" fill="#a3001c"/>
<line x1="120.05" y1="219.54" x2="120.05" y2="221.47" stroke="#000" stroke-width="0.8"/>
<line x1="119.15" y1="219.84" x2="120.95" y2="219.84" stroke="#000" stroke-width="0.9"/>
<rect x="126.65" y="188.8" width="2.9" height="52.1" fill="#1f3b70"/>
<rect x="131.85" y="194.53" width="2.9" height="46.37" fill="#1f3b70"/>
<line x1="133.3" y1="191.93" x2="133.3" y2="194.53" stroke="#000" stroke-width="0.8"/>
<line x1="132.4" y1="192.23" x2="134.2" y2="192.23" stroke="#000" stroke-width="0.9"/>
<rect x="137.05" y="208.08" width="2.9" height="32.82" fill="#1f3b70"/>
<line x1="138.5" y1="207.35" x2="138.5" y2="208.08" stroke="#000" stroke-width="0.8"/>
<line x1="137.6" y1="207.65" x2="139.4" y2="207.65" stroke="#000" stroke-width="0.9"/>
<rect x="142.25" y="212.77" width="2.9" height="28.13" fill="#1f3b70"/>
<line x1="143.7" y1="211.05" x2="143.7" y2="212.77" stroke="#000" stroke-width="0.8"/>
<line x1="142.8" y1="211.35" x2="144.6" y2="211.35" stroke="#000" stroke-width="0.9"/>
<rect x="147.45" y="214.49" width="2.9" height="26.41" fill="#1f3b70"/>
<line x1="148.9" y1="213.81" x2="148.9" y2="214.49" stroke="#000" stroke-width="0.8"/>
<line x1="148" y1="214.11" x2="149.8" y2="214.11" stroke="#000" stroke-width="0.9"/>
<rect x="152.65" y="211.93" width="2.9" height="28.97" fill="#1f3b70"/>
<line x1="154.1" y1="210.79" x2="154.1" y2="211.93" stroke="#000" stroke-width="0.8"/>
<line x1="153.2" y1="211.09" x2="155" y2="211.09" stroke="#000" stroke-width="0.9"/>
<rect x="157.85" y="214.33" width="2.9" height="26.57" fill="#1f3b70"/>
<line x1="159.3" y1="212.25" x2="159.3" y2="214.33" stroke="#000" stroke-width="0.8"/>
<line x1="158.4" y1="212.55" x2="160.2" y2="212.55" stroke="#000" stroke-width="0.9"/>
<path d="M45.7 160.45V240.9H163.7" fill="none" stroke="#1a1a1a" stroke-width="1.25"/>
<line x1="42.9" y1="240.9" x2="45.7" y2="240.9" stroke="#1a1a1a" stroke-width="1"/>
<text x="39.7" y="243.3" class="tk" text-anchor="end">0.0</text>
<line x1="42.9" y1="214.85" x2="45.7" y2="214.85" stroke="#1a1a1a" stroke-width="1"/>
<text x="39.7" y="217.25" class="tk" text-anchor="end">0.5</text>
<line x1="42.9" y1="188.8" x2="45.7" y2="188.8" stroke="#1a1a1a" stroke-width="1"/>
<text x="39.7" y="191.2" class="tk" text-anchor="end">1.0</text>
<line x1="42.9" y1="162.75" x2="45.7" y2="162.75" stroke="#1a1a1a" stroke-width="1"/>
<text x="39.7" y="165.15" class="tk" text-anchor="end">1.5</text>
<line x1="49.6" y1="240.9" x2="49.6" y2="244.3" stroke="#1a1a1a" stroke-width="0.8"/>
<text class="xt" text-anchor="end" transform="translate(52.6 248.9) rotate(-45)">0</text>
<line x1="54.8" y1="240.9" x2="54.8" y2="244.3" stroke="#1a1a1a" stroke-width="0.8"/>
<text class="xt" text-anchor="end" transform="translate(57.8 248.9) rotate(-45)">2</text>
<line x1="60" y1="240.9" x2="60" y2="244.3" stroke="#1a1a1a" stroke-width="0.8"/>
<text class="xt" text-anchor="end" transform="translate(63 248.9) rotate(-45)">4</text>
<line x1="65.2" y1="240.9" x2="65.2" y2="244.3" stroke="#1a1a1a" stroke-width="0.8"/>
<text class="xt" text-anchor="end" transform="translate(68.2 248.9) rotate(-45)">6</text>
<line x1="70.4" y1="240.9" x2="70.4" y2="244.3" stroke="#1a1a1a" stroke-width="0.8"/>
<text class="xt" text-anchor="end" transform="translate(73.4 248.9) rotate(-45)">8</text>
<line x1="75.6" y1="240.9" x2="75.6" y2="244.3" stroke="#1a1a1a" stroke-width="0.8"/>
<text class="xt" text-anchor="end" transform="translate(78.6 248.9) rotate(-45)">10</text>
<line x1="80.8" y1="240.9" x2="80.8" y2="244.3" stroke="#1a1a1a" stroke-width="0.8"/>
<text class="xt" text-anchor="end" transform="translate(83.8 248.9) rotate(-45)">12</text>
<line x1="88.85" y1="240.9" x2="88.85" y2="244.3" stroke="#1a1a1a" stroke-width="0.8"/>
<text class="xt" text-anchor="end" transform="translate(91.85 248.9) rotate(-45)">0</text>
<line x1="94.05" y1="240.9" x2="94.05" y2="244.3" stroke="#1a1a1a" stroke-width="0.8"/>
<text class="xt" text-anchor="end" transform="translate(97.05 248.9) rotate(-45)">2</text>
<line x1="99.25" y1="240.9" x2="99.25" y2="244.3" stroke="#1a1a1a" stroke-width="0.8"/>
<text class="xt" text-anchor="end" transform="translate(102.25 248.9) rotate(-45)">4</text>
<line x1="104.45" y1="240.9" x2="104.45" y2="244.3" stroke="#1a1a1a" stroke-width="0.8"/>
<text class="xt" text-anchor="end" transform="translate(107.45 248.9) rotate(-45)">6</text>
<line x1="109.65" y1="240.9" x2="109.65" y2="244.3" stroke="#1a1a1a" stroke-width="0.8"/>
<text class="xt" text-anchor="end" transform="translate(112.65 248.9) rotate(-45)">8</text>
<line x1="114.85" y1="240.9" x2="114.85" y2="244.3" stroke="#1a1a1a" stroke-width="0.8"/>
<text class="xt" text-anchor="end" transform="translate(117.85 248.9) rotate(-45)">10</text>
<line x1="120.05" y1="240.9" x2="120.05" y2="244.3" stroke="#1a1a1a" stroke-width="0.8"/>
<text class="xt" text-anchor="end" transform="translate(123.05 248.9) rotate(-45)">12</text>
<line x1="128.1" y1="240.9" x2="128.1" y2="244.3" stroke="#1a1a1a" stroke-width="0.8"/>
<text class="xt" text-anchor="end" transform="translate(131.1 248.9) rotate(-45)">0</text>
<line x1="133.3" y1="240.9" x2="133.3" y2="244.3" stroke="#1a1a1a" stroke-width="0.8"/>
<text class="xt" text-anchor="end" transform="translate(136.3 248.9) rotate(-45)">2</text>
<line x1="138.5" y1="240.9" x2="138.5" y2="244.3" stroke="#1a1a1a" stroke-width="0.8"/>
<text class="xt" text-anchor="end" transform="translate(141.5 248.9) rotate(-45)">4</text>
<line x1="143.7" y1="240.9" x2="143.7" y2="244.3" stroke="#1a1a1a" stroke-width="0.8"/>
<text class="xt" text-anchor="end" transform="translate(146.7 248.9) rotate(-45)">6</text>
<line x1="148.9" y1="240.9" x2="148.9" y2="244.3" stroke="#1a1a1a" stroke-width="0.8"/>
<text class="xt" text-anchor="end" transform="translate(151.9 248.9) rotate(-45)">8</text>
<line x1="154.1" y1="240.9" x2="154.1" y2="244.3" stroke="#1a1a1a" stroke-width="0.8"/>
<text class="xt" text-anchor="end" transform="translate(157.1 248.9) rotate(-45)">10</text>
<line x1="159.3" y1="240.9" x2="159.3" y2="244.3" stroke="#1a1a1a" stroke-width="0.8"/>
<text class="xt" text-anchor="end" transform="translate(162.3 248.9) rotate(-45)">12</text>
<text class="ti" x="104.8" y="154.3" text-anchor="middle" textLength="23.6" lengthAdjust="spacingAndGlyphs">U2932</text>
<text x="104.8" y="262.9" class="al" text-anchor="middle" textLength="23.9" lengthAdjust="spacingAndGlyphs">Time [d]</text>
<text class="al" text-anchor="middle" textLength="63.7" lengthAdjust="spacingAndGlyphs" transform="translate(25.8 199.6) rotate(-90)">Normalized cell count</text>
<rect x="202.45" y="188.8" width="2.9" height="52.1" fill="#46145c"/>
<rect x="207.65" y="188.8" width="2.9" height="52.1" fill="#46145c"/>
<line x1="209.1" y1="186.04" x2="209.1" y2="188.8" stroke="#000" stroke-width="0.8"/>
<line x1="208.2" y1="186.34" x2="210" y2="186.34" stroke="#000" stroke-width="0.9"/>
<rect x="212.85" y="188.8" width="2.9" height="52.1" fill="#46145c"/>
<line x1="214.3" y1="184.89" x2="214.3" y2="188.8" stroke="#000" stroke-width="0.8"/>
<line x1="213.4" y1="185.19" x2="215.2" y2="185.19" stroke="#000" stroke-width="0.9"/>
<rect x="218.05" y="188.8" width="2.9" height="52.1" fill="#46145c"/>
<line x1="219.5" y1="183.59" x2="219.5" y2="188.8" stroke="#000" stroke-width="0.8"/>
<line x1="218.6" y1="183.89" x2="220.4" y2="183.89" stroke="#000" stroke-width="0.9"/>
<rect x="223.25" y="188.8" width="2.9" height="52.1" fill="#46145c"/>
<line x1="224.7" y1="186.51" x2="224.7" y2="188.8" stroke="#000" stroke-width="0.8"/>
<line x1="223.8" y1="186.81" x2="225.6" y2="186.81" stroke="#000" stroke-width="0.9"/>
<rect x="228.45" y="188.8" width="2.9" height="52.1" fill="#46145c"/>
<line x1="229.9" y1="187.24" x2="229.9" y2="188.8" stroke="#000" stroke-width="0.8"/>
<line x1="229" y1="187.54" x2="230.8" y2="187.54" stroke="#000" stroke-width="0.9"/>
<rect x="233.65" y="188.8" width="2.9" height="52.1" fill="#46145c"/>
<rect x="241.7" y="188.8" width="2.9" height="52.1" fill="#a3001c"/>
<rect x="246.9" y="189.01" width="2.9" height="51.89" fill="#a3001c"/>
<line x1="248.35" y1="187.24" x2="248.35" y2="189.01" stroke="#000" stroke-width="0.8"/>
<line x1="247.45" y1="187.54" x2="249.25" y2="187.54" stroke="#000" stroke-width="0.9"/>
<rect x="252.1" y="192.29" width="2.9" height="48.61" fill="#a3001c"/>
<line x1="253.55" y1="189.95" x2="253.55" y2="192.29" stroke="#000" stroke-width="0.8"/>
<line x1="252.65" y1="190.25" x2="254.45" y2="190.25" stroke="#000" stroke-width="0.9"/>
<rect x="257.3" y="199.9" width="2.9" height="41" fill="#a3001c"/>
<line x1="258.75" y1="197.14" x2="258.75" y2="199.9" stroke="#000" stroke-width="0.8"/>
<line x1="257.85" y1="197.44" x2="259.65" y2="197.44" stroke="#000" stroke-width="0.9"/>
<rect x="262.5" y="208.08" width="2.9" height="32.82" fill="#a3001c"/>
<line x1="263.95" y1="206.88" x2="263.95" y2="208.08" stroke="#000" stroke-width="0.8"/>
<line x1="263.05" y1="207.18" x2="264.85" y2="207.18" stroke="#000" stroke-width="0.9"/>
<rect x="267.7" y="204.07" width="2.9" height="36.83" fill="#a3001c"/>
<line x1="269.15" y1="201.82" x2="269.15" y2="204.07" stroke="#000" stroke-width="0.8"/>
<line x1="268.25" y1="202.12" x2="270.05" y2="202.12" stroke="#000" stroke-width="0.9"/>
<rect x="272.9" y="204.07" width="2.9" height="36.83" fill="#a3001c"/>
<line x1="274.35" y1="201.1" x2="274.35" y2="204.07" stroke="#000" stroke-width="0.8"/>
<line x1="273.45" y1="201.4" x2="275.25" y2="201.4" stroke="#000" stroke-width="0.9"/>
<rect x="280.95" y="188.8" width="2.9" height="52.1" fill="#1f3b70"/>
<rect x="286.15" y="186.51" width="2.9" height="54.39" fill="#1f3b70"/>
<line x1="287.6" y1="183.59" x2="287.6" y2="186.51" stroke="#000" stroke-width="0.8"/>
<line x1="286.7" y1="183.89" x2="288.5" y2="183.89" stroke="#000" stroke-width="0.9"/>
<rect x="291.35" y="189.48" width="2.9" height="51.42" fill="#1f3b70"/>
<line x1="292.8" y1="186.51" x2="292.8" y2="189.48" stroke="#000" stroke-width="0.8"/>
<line x1="291.9" y1="186.81" x2="293.7" y2="186.81" stroke="#000" stroke-width="0.9"/>
<rect x="296.55" y="198.7" width="2.9" height="42.2" fill="#1f3b70"/>
<line x1="298" y1="196.93" x2="298" y2="198.7" stroke="#000" stroke-width="0.8"/>
<line x1="297.1" y1="197.23" x2="298.9" y2="197.23" stroke="#000" stroke-width="0.9"/>
<rect x="301.75" y="200.26" width="2.9" height="40.64" fill="#1f3b70"/>
<line x1="303.2" y1="196.93" x2="303.2" y2="200.26" stroke="#000" stroke-width="0.8"/>
<line x1="302.3" y1="197.23" x2="304.1" y2="197.23" stroke="#000" stroke-width="0.9"/>
<rect x="306.95" y="202.71" width="2.9" height="38.19" fill="#1f3b70"/>
<line x1="308.4" y1="201.1" x2="308.4" y2="202.71" stroke="#000" stroke-width="0.8"/>
<line x1="307.5" y1="201.4" x2="309.3" y2="201.4" stroke="#000" stroke-width="0.9"/>
<rect x="312.15" y="196.46" width="2.9" height="44.44" fill="#1f3b70"/>
<line x1="313.6" y1="196.09" x2="313.6" y2="196.46" stroke="#000" stroke-width="0.8"/>
<line x1="312.7" y1="196.39" x2="314.5" y2="196.39" stroke="#000" stroke-width="0.9"/>
<path d="M200 160.45V240.9H318" fill="none" stroke="#1a1a1a" stroke-width="1.25"/>
<line x1="197.2" y1="240.9" x2="200" y2="240.9" stroke="#1a1a1a" stroke-width="1"/>
<text x="194" y="243.3" class="tk" text-anchor="end">0.0</text>
<line x1="197.2" y1="214.85" x2="200" y2="214.85" stroke="#1a1a1a" stroke-width="1"/>
<text x="194" y="217.25" class="tk" text-anchor="end">0.5</text>
<line x1="197.2" y1="188.8" x2="200" y2="188.8" stroke="#1a1a1a" stroke-width="1"/>
<text x="194" y="191.2" class="tk" text-anchor="end">1.0</text>
<line x1="197.2" y1="162.75" x2="200" y2="162.75" stroke="#1a1a1a" stroke-width="1"/>
<text x="194" y="165.15" class="tk" text-anchor="end">1.5</text>
<line x1="203.9" y1="240.9" x2="203.9" y2="244.3" stroke="#1a1a1a" stroke-width="0.8"/>
<text class="xt" text-anchor="end" transform="translate(206.9 248.9) rotate(-45)">0</text>
<line x1="209.1" y1="240.9" x2="209.1" y2="244.3" stroke="#1a1a1a" stroke-width="0.8"/>
<text class="xt" text-anchor="end" transform="translate(212.1 248.9) rotate(-45)">2</text>
<line x1="214.3" y1="240.9" x2="214.3" y2="244.3" stroke="#1a1a1a" stroke-width="0.8"/>
<text class="xt" text-anchor="end" transform="translate(217.3 248.9) rotate(-45)">4</text>
<line x1="219.5" y1="240.9" x2="219.5" y2="244.3" stroke="#1a1a1a" stroke-width="0.8"/>
<text class="xt" text-anchor="end" transform="translate(222.5 248.9) rotate(-45)">6</text>
<line x1="224.7" y1="240.9" x2="224.7" y2="244.3" stroke="#1a1a1a" stroke-width="0.8"/>
<text class="xt" text-anchor="end" transform="translate(227.7 248.9) rotate(-45)">8</text>
<line x1="229.9" y1="240.9" x2="229.9" y2="244.3" stroke="#1a1a1a" stroke-width="0.8"/>
<text class="xt" text-anchor="end" transform="translate(232.9 248.9) rotate(-45)">10</text>
<line x1="235.1" y1="240.9" x2="235.1" y2="244.3" stroke="#1a1a1a" stroke-width="0.8"/>
<text class="xt" text-anchor="end" transform="translate(238.1 248.9) rotate(-45)">12</text>
<line x1="243.15" y1="240.9" x2="243.15" y2="244.3" stroke="#1a1a1a" stroke-width="0.8"/>
<text class="xt" text-anchor="end" transform="translate(246.15 248.9) rotate(-45)">0</text>
<line x1="248.35" y1="240.9" x2="248.35" y2="244.3" stroke="#1a1a1a" stroke-width="0.8"/>
<text class="xt" text-anchor="end" transform="translate(251.35 248.9) rotate(-45)">2</text>
<line x1="253.55" y1="240.9" x2="253.55" y2="244.3" stroke="#1a1a1a" stroke-width="0.8"/>
<text class="xt" text-anchor="end" transform="translate(256.55 248.9) rotate(-45)">4</text>
<line x1="258.75" y1="240.9" x2="258.75" y2="244.3" stroke="#1a1a1a" stroke-width="0.8"/>
<text class="xt" text-anchor="end" transform="translate(261.75 248.9) rotate(-45)">6</text>
<line x1="263.95" y1="240.9" x2="263.95" y2="244.3" stroke="#1a1a1a" stroke-width="0.8"/>
<text class="xt" text-anchor="end" transform="translate(266.95 248.9) rotate(-45)">8</text>
<line x1="269.15" y1="240.9" x2="269.15" y2="244.3" stroke="#1a1a1a" stroke-width="0.8"/>
<text class="xt" text-anchor="end" transform="translate(272.15 248.9) rotate(-45)">10</text>
<line x1="274.35" y1="240.9" x2="274.35" y2="244.3" stroke="#1a1a1a" stroke-width="0.8"/>
<text class="xt" text-anchor="end" transform="translate(277.35 248.9) rotate(-45)">12</text>
<line x1="282.4" y1="240.9" x2="282.4" y2="244.3" stroke="#1a1a1a" stroke-width="0.8"/>
<text class="xt" text-anchor="end" transform="translate(285.4 248.9) rotate(-45)">0</text>
<line x1="287.6" y1="240.9" x2="287.6" y2="244.3" stroke="#1a1a1a" stroke-width="0.8"/>
<text class="xt" text-anchor="end" transform="translate(290.6 248.9) rotate(-45)">2</text>
<line x1="292.8" y1="240.9" x2="292.8" y2="244.3" stroke="#1a1a1a" stroke-width="0.8"/>
<text class="xt" text-anchor="end" transform="translate(295.8 248.9) rotate(-45)">4</text>
<line x1="298" y1="240.9" x2="298" y2="244.3" stroke="#1a1a1a" stroke-width="0.8"/>
<text class="xt" text-anchor="end" transform="translate(301 248.9) rotate(-45)">6</text>
<line x1="303.2" y1="240.9" x2="303.2" y2="244.3" stroke="#1a1a1a" stroke-width="0.8"/>
<text class="xt" text-anchor="end" transform="translate(306.2 248.9) rotate(-45)">8</text>
<line x1="308.4" y1="240.9" x2="308.4" y2="244.3" stroke="#1a1a1a" stroke-width="0.8"/>
<text class="xt" text-anchor="end" transform="translate(311.4 248.9) rotate(-45)">10</text>
<line x1="313.6" y1="240.9" x2="313.6" y2="244.3" stroke="#1a1a1a" stroke-width="0.8"/>
<text class="xt" text-anchor="end" transform="translate(316.6 248.9) rotate(-45)">12</text>
<text class="ti" x="259.1" y="154.3" text-anchor="middle" textLength="29.8" lengthAdjust="spacingAndGlyphs">OCI-Ly3</text>
<text x="259.1" y="262.9" class="al" text-anchor="middle" textLength="23.9" lengthAdjust="spacingAndGlyphs">Time [d]</text>
<text class="al" text-anchor="middle" textLength="63.7" lengthAdjust="spacingAndGlyphs" transform="translate(180.1 199.6) rotate(-90)">Normalized cell count</text>
<rect x="327.2" y="186.9" width="9.6" height="4.4" fill="#4f2467" stroke="#40145a" stroke-width="0.8"/>
<text class="lg" transform="translate(340.4 191.5) scale(0.86 1)">Solvent</text>
<rect x="327.2" y="198.3" width="9.6" height="4.4" fill="#a6002a" stroke="#98001a" stroke-width="0.8"/>
<text class="lg" transform="translate(340.4 202.9) scale(0.86 1)">CsA</text>
<rect x="327.2" y="209.7" width="9.6" height="4.4" fill="#2f4b7c" stroke="#1c3870" stroke-width="0.8"/>
<text class="lg" transform="translate(340.4 214.3) scale(0.86 1)">FK506</text>
<rect x="48.15" y="315.5" width="2.9" height="52.1" fill="#46145c"/>
<rect x="53.35" y="315.5" width="2.9" height="52.1" fill="#46145c"/>
<line x1="54.8" y1="311.59" x2="54.8" y2="315.5" stroke="#000" stroke-width="0.8"/>
<line x1="53.9" y1="311.89" x2="55.7" y2="311.89" stroke="#000" stroke-width="0.9"/>
<rect x="58.55" y="315.5" width="2.9" height="52.1" fill="#46145c"/>
<line x1="60" y1="310.81" x2="60" y2="315.5" stroke="#000" stroke-width="0.8"/>
<line x1="59.1" y1="311.11" x2="60.9" y2="311.11" stroke="#000" stroke-width="0.9"/>
<rect x="63.75" y="315.5" width="2.9" height="52.1" fill="#46145c"/>
<line x1="65.2" y1="312.74" x2="65.2" y2="315.5" stroke="#000" stroke-width="0.8"/>
<line x1="64.3" y1="313.04" x2="66.1" y2="313.04" stroke="#000" stroke-width="0.9"/>
<rect x="68.95" y="315.5" width="2.9" height="52.1" fill="#46145c"/>
<line x1="70.4" y1="311.59" x2="70.4" y2="315.5" stroke="#000" stroke-width="0.8"/>
<line x1="69.5" y1="311.89" x2="71.3" y2="311.89" stroke="#000" stroke-width="0.9"/>
<rect x="74.15" y="315.5" width="2.9" height="52.1" fill="#46145c"/>
<line x1="75.6" y1="313.94" x2="75.6" y2="315.5" stroke="#000" stroke-width="0.8"/>
<line x1="74.7" y1="314.24" x2="76.5" y2="314.24" stroke="#000" stroke-width="0.9"/>
<rect x="79.35" y="315.5" width="2.9" height="52.1" fill="#46145c"/>
<line x1="80.8" y1="313.21" x2="80.8" y2="315.5" stroke="#000" stroke-width="0.8"/>
<line x1="79.9" y1="313.51" x2="81.7" y2="313.51" stroke="#000" stroke-width="0.9"/>
<rect x="87.4" y="315.5" width="2.9" height="52.1" fill="#a3001c"/>
<rect x="92.6" y="315.5" width="2.9" height="52.1" fill="#a3001c"/>
<line x1="94.05" y1="311.12" x2="94.05" y2="315.5" stroke="#000" stroke-width="0.8"/>
<line x1="93.15" y1="311.42" x2="94.95" y2="311.42" stroke="#000" stroke-width="0.9"/>
<rect x="97.8" y="314.46" width="2.9" height="53.14" fill="#a3001c"/>
<line x1="99.25" y1="312.74" x2="99.25" y2="314.46" stroke="#000" stroke-width="0.8"/>
<line x1="98.35" y1="313.04" x2="100.15" y2="313.04" stroke="#000" stroke-width="0.9"/>
<rect x="103" y="313.21" width="2.9" height="54.39" fill="#a3001c"/>
<line x1="104.45" y1="310.29" x2="104.45" y2="313.21" stroke="#000" stroke-width="0.8"/>
<line x1="103.55" y1="310.59" x2="105.35" y2="310.59" stroke="#000" stroke-width="0.9"/>
<rect x="108.2" y="317.79" width="2.9" height="49.81" fill="#a3001c"/>
<line x1="109.65" y1="314.98" x2="109.65" y2="317.79" stroke="#000" stroke-width="0.8"/>
<line x1="108.75" y1="315.28" x2="110.55" y2="315.28" stroke="#000" stroke-width="0.9"/>
<rect x="113.4" y="314.82" width="2.9" height="52.78" fill="#a3001c"/>
<line x1="114.85" y1="312.01" x2="114.85" y2="314.82" stroke="#000" stroke-width="0.8"/>
<line x1="113.95" y1="312.31" x2="115.75" y2="312.31" stroke="#000" stroke-width="0.9"/>
<rect x="118.6" y="314.98" width="2.9" height="52.62" fill="#a3001c"/>
<line x1="120.05" y1="311.12" x2="120.05" y2="314.98" stroke="#000" stroke-width="0.8"/>
<line x1="119.15" y1="311.42" x2="120.95" y2="311.42" stroke="#000" stroke-width="0.9"/>
<rect x="126.65" y="315.5" width="2.9" height="52.1" fill="#1f3b70"/>
<rect x="131.85" y="315.5" width="2.9" height="52.1" fill="#1f3b70"/>
<line x1="133.3" y1="312.74" x2="133.3" y2="315.5" stroke="#000" stroke-width="0.8"/>
<line x1="132.4" y1="313.04" x2="134.2" y2="313.04" stroke="#000" stroke-width="0.9"/>
<rect x="137.05" y="314.46" width="2.9" height="53.14" fill="#1f3b70"/>
<line x1="138.5" y1="311.59" x2="138.5" y2="314.46" stroke="#000" stroke-width="0.8"/>
<line x1="137.6" y1="311.89" x2="139.4" y2="311.89" stroke="#000" stroke-width="0.9"/>
<rect x="142.25" y="313.94" width="2.9" height="53.66" fill="#1f3b70"/>
<line x1="143.7" y1="312.74" x2="143.7" y2="313.94" stroke="#000" stroke-width="0.8"/>
<line x1="142.8" y1="313.04" x2="144.6" y2="313.04" stroke="#000" stroke-width="0.9"/>
<rect x="147.45" y="318.99" width="2.9" height="48.61" fill="#1f3b70"/>
<rect x="152.65" y="311.59" width="2.9" height="56.01" fill="#1f3b70"/>
<line x1="154.1" y1="309.77" x2="154.1" y2="311.59" stroke="#000" stroke-width="0.8"/>
<line x1="153.2" y1="310.07" x2="155" y2="310.07" stroke="#000" stroke-width="0.9"/>
<rect x="157.85" y="316.18" width="2.9" height="51.42" fill="#1f3b70"/>
<line x1="159.3" y1="312.74" x2="159.3" y2="316.18" stroke="#000" stroke-width="0.8"/>
<line x1="158.4" y1="313.04" x2="160.2" y2="313.04" stroke="#000" stroke-width="0.9"/>
<path d="M45.7 287.15V367.6H163.7" fill="none" stroke="#1a1a1a" stroke-width="1.25"/>
<line x1="42.9" y1="367.6" x2="45.7" y2="367.6" stroke="#1a1a1a" stroke-width="1"/>
<text x="39.7" y="370" class="tk" text-anchor="end">0.0</text>
<line x1="42.9" y1="341.55" x2="45.7" y2="341.55" stroke="#1a1a1a" stroke-width="1"/>
<text x="39.7" y="343.95" class="tk" text-anchor="end">0.5</text>
<line x1="42.9" y1="315.5" x2="45.7" y2="315.5" stroke="#1a1a1a" stroke-width="1"/>
<text x="39.7" y="317.9" class="tk" text-anchor="end">1.0</text>
<line x1="42.9" y1="289.45" x2="45.7" y2="289.45" stroke="#1a1a1a" stroke-width="1"/>
<text x="39.7" y="291.85" class="tk" text-anchor="end">1.5</text>
<line x1="49.6" y1="367.6" x2="49.6" y2="371" stroke="#1a1a1a" stroke-width="0.8"/>
<text class="xt" text-anchor="end" transform="translate(52.6 375.6) rotate(-45)">0</text>
<line x1="54.8" y1="367.6" x2="54.8" y2="371" stroke="#1a1a1a" stroke-width="0.8"/>
<text class="xt" text-anchor="end" transform="translate(57.8 375.6) rotate(-45)">2</text>
<line x1="60" y1="367.6" x2="60" y2="371" stroke="#1a1a1a" stroke-width="0.8"/>
<text class="xt" text-anchor="end" transform="translate(63 375.6) rotate(-45)">4</text>
<line x1="65.2" y1="367.6" x2="65.2" y2="371" stroke="#1a1a1a" stroke-width="0.8"/>
<text class="xt" text-anchor="end" transform="translate(68.2 375.6) rotate(-45)">6</text>
<line x1="70.4" y1="367.6" x2="70.4" y2="371" stroke="#1a1a1a" stroke-width="0.8"/>
<text class="xt" text-anchor="end" transform="translate(73.4 375.6) rotate(-45)">8</text>
<line x1="75.6" y1="367.6" x2="75.6" y2="371" stroke="#1a1a1a" stroke-width="0.8"/>
<text class="xt" text-anchor="end" transform="translate(78.6 375.6) rotate(-45)">10</text>
<line x1="80.8" y1="367.6" x2="80.8" y2="371" stroke="#1a1a1a" stroke-width="0.8"/>
<text class="xt" text-anchor="end" transform="translate(83.8 375.6) rotate(-45)">12</text>
<line x1="88.85" y1="367.6" x2="88.85" y2="371" stroke="#1a1a1a" stroke-width="0.8"/>
<text class="xt" text-anchor="end" transform="translate(91.85 375.6) rotate(-45)">0</text>
<line x1="94.05" y1="367.6" x2="94.05" y2="371" stroke="#1a1a1a" stroke-width="0.8"/>
<text class="xt" text-anchor="end" transform="translate(97.05 375.6) rotate(-45)">2</text>
<line x1="99.25" y1="367.6" x2="99.25" y2="371" stroke="#1a1a1a" stroke-width="0.8"/>
<text class="xt" text-anchor="end" transform="translate(102.25 375.6) rotate(-45)">4</text>
<line x1="104.45" y1="367.6" x2="104.45" y2="371" stroke="#1a1a1a" stroke-width="0.8"/>
<text class="xt" text-anchor="end" transform="translate(107.45 375.6) rotate(-45)">6</text>
<line x1="109.65" y1="367.6" x2="109.65" y2="371" stroke="#1a1a1a" stroke-width="0.8"/>
<text class="xt" text-anchor="end" transform="translate(112.65 375.6) rotate(-45)">8</text>
<line x1="114.85" y1="367.6" x2="114.85" y2="371" stroke="#1a1a1a" stroke-width="0.8"/>
<text class="xt" text-anchor="end" transform="translate(117.85 375.6) rotate(-45)">10</text>
<line x1="120.05" y1="367.6" x2="120.05" y2="371" stroke="#1a1a1a" stroke-width="0.8"/>
<text class="xt" text-anchor="end" transform="translate(123.05 375.6) rotate(-45)">12</text>
<line x1="128.1" y1="367.6" x2="128.1" y2="371" stroke="#1a1a1a" stroke-width="0.8"/>
<text class="xt" text-anchor="end" transform="translate(131.1 375.6) rotate(-45)">0</text>
<line x1="133.3" y1="367.6" x2="133.3" y2="371" stroke="#1a1a1a" stroke-width="0.8"/>
<text class="xt" text-anchor="end" transform="translate(136.3 375.6) rotate(-45)">2</text>
<line x1="138.5" y1="367.6" x2="138.5" y2="371" stroke="#1a1a1a" stroke-width="0.8"/>
<text class="xt" text-anchor="end" transform="translate(141.5 375.6) rotate(-45)">4</text>
<line x1="143.7" y1="367.6" x2="143.7" y2="371" stroke="#1a1a1a" stroke-width="0.8"/>
<text class="xt" text-anchor="end" transform="translate(146.7 375.6) rotate(-45)">6</text>
<line x1="148.9" y1="367.6" x2="148.9" y2="371" stroke="#1a1a1a" stroke-width="0.8"/>
<text class="xt" text-anchor="end" transform="translate(151.9 375.6) rotate(-45)">8</text>
<line x1="154.1" y1="367.6" x2="154.1" y2="371" stroke="#1a1a1a" stroke-width="0.8"/>
<text class="xt" text-anchor="end" transform="translate(157.1 375.6) rotate(-45)">10</text>
<line x1="159.3" y1="367.6" x2="159.3" y2="371" stroke="#1a1a1a" stroke-width="0.8"/>
<text class="xt" text-anchor="end" transform="translate(162.3 375.6) rotate(-45)">12</text>
<text class="ti" x="104.8" y="281" text-anchor="middle" textLength="10.4" lengthAdjust="spacingAndGlyphs">HT</text>
<text x="104.8" y="389.6" class="al" text-anchor="middle" textLength="23.9" lengthAdjust="spacingAndGlyphs">Time [d]</text>
<text class="al" text-anchor="middle" textLength="63.7" lengthAdjust="spacingAndGlyphs" transform="translate(25.8 326.3) rotate(-90)">Normalized cell count</text>
<rect x="202.85" y="315.5" width="2.9" height="52.1" fill="#46145c"/>
<rect x="208.05" y="315.5" width="2.9" height="52.1" fill="#46145c"/>
<line x1="209.5" y1="314.35" x2="209.5" y2="315.5" stroke="#000" stroke-width="0.8"/>
<line x1="208.6" y1="314.65" x2="210.4" y2="314.65" stroke="#000" stroke-width="0.9"/>
<rect x="213.25" y="315.5" width="2.9" height="52.1" fill="#46145c"/>
<line x1="214.7" y1="313.94" x2="214.7" y2="315.5" stroke="#000" stroke-width="0.8"/>
<line x1="213.8" y1="314.24" x2="215.6" y2="314.24" stroke="#000" stroke-width="0.9"/>
<rect x="218.45" y="315.5" width="2.9" height="52.1" fill="#46145c"/>
<line x1="219.9" y1="313.94" x2="219.9" y2="315.5" stroke="#000" stroke-width="0.8"/>
<line x1="219" y1="314.24" x2="220.8" y2="314.24" stroke="#000" stroke-width="0.9"/>
<rect x="223.65" y="315.5" width="2.9" height="52.1" fill="#46145c"/>
<line x1="225.1" y1="314.35" x2="225.1" y2="315.5" stroke="#000" stroke-width="0.8"/>
<line x1="224.2" y1="314.65" x2="226" y2="314.65" stroke="#000" stroke-width="0.9"/>
<rect x="228.85" y="315.5" width="2.9" height="52.1" fill="#46145c"/>
<line x1="230.3" y1="312.27" x2="230.3" y2="315.5" stroke="#000" stroke-width="0.8"/>
<line x1="229.4" y1="312.57" x2="231.2" y2="312.57" stroke="#000" stroke-width="0.9"/>
<rect x="234.05" y="315.5" width="2.9" height="52.1" fill="#46145c"/>
<line x1="235.5" y1="312.74" x2="235.5" y2="315.5" stroke="#000" stroke-width="0.8"/>
<line x1="234.6" y1="313.04" x2="236.4" y2="313.04" stroke="#000" stroke-width="0.9"/>
<rect x="242.1" y="315.5" width="2.9" height="52.1" fill="#a3001c"/>
<rect x="247.3" y="325.92" width="2.9" height="41.68" fill="#a3001c"/>
<line x1="248.75" y1="322.69" x2="248.75" y2="325.92" stroke="#000" stroke-width="0.8"/>
<line x1="247.85" y1="322.99" x2="249.65" y2="322.99" stroke="#000" stroke-width="0.9"/>
<rect x="252.5" y="319.67" width="2.9" height="47.93" fill="#a3001c"/>
<line x1="253.95" y1="318.99" x2="253.95" y2="319.67" stroke="#000" stroke-width="0.8"/>
<line x1="253.05" y1="319.29" x2="254.85" y2="319.29" stroke="#000" stroke-width="0.9"/>
<rect x="257.7" y="314.98" width="2.9" height="52.62" fill="#a3001c"/>
<line x1="259.15" y1="312.01" x2="259.15" y2="314.98" stroke="#000" stroke-width="0.8"/>
<line x1="258.25" y1="312.31" x2="260.05" y2="312.31" stroke="#000" stroke-width="0.9"/>
<rect x="262.9" y="314.35" width="2.9" height="53.25" fill="#a3001c"/>
<line x1="264.35" y1="311.12" x2="264.35" y2="314.35" stroke="#000" stroke-width="0.8"/>
<line x1="263.45" y1="311.42" x2="265.25" y2="311.42" stroke="#000" stroke-width="0.9"/>
<rect x="268.1" y="315.5" width="2.9" height="52.1" fill="#a3001c"/>
<line x1="269.55" y1="314.56" x2="269.55" y2="315.5" stroke="#000" stroke-width="0.8"/>
<line x1="268.65" y1="314.86" x2="270.45" y2="314.86" stroke="#000" stroke-width="0.9"/>
<rect x="273.3" y="311.12" width="2.9" height="56.48" fill="#a3001c"/>
<line x1="274.75" y1="309.25" x2="274.75" y2="311.12" stroke="#000" stroke-width="0.8"/>
<line x1="273.85" y1="309.55" x2="275.65" y2="309.55" stroke="#000" stroke-width="0.9"/>
<rect x="281.35" y="315.5" width="2.9" height="52.1" fill="#1f3b70"/>
<rect x="286.55" y="318.99" width="2.9" height="48.61" fill="#1f3b70"/>
<line x1="288" y1="316.91" x2="288" y2="318.99" stroke="#000" stroke-width="0.8"/>
<line x1="287.1" y1="317.21" x2="288.9" y2="317.21" stroke="#000" stroke-width="0.9"/>
<rect x="291.75" y="321.96" width="2.9" height="45.64" fill="#1f3b70"/>
<line x1="293.2" y1="320.35" x2="293.2" y2="321.96" stroke="#000" stroke-width="0.8"/>
<line x1="292.3" y1="320.65" x2="294.1" y2="320.65" stroke="#000" stroke-width="0.9"/>
<rect x="296.95" y="314.98" width="2.9" height="52.62" fill="#1f3b70"/>
<line x1="298.4" y1="309.25" x2="298.4" y2="314.98" stroke="#000" stroke-width="0.8"/>
<line x1="297.5" y1="309.55" x2="299.3" y2="309.55" stroke="#000" stroke-width="0.9"/>
<rect x="302.15" y="316.18" width="2.9" height="51.42" fill="#1f3b70"/>
<line x1="303.6" y1="314.56" x2="303.6" y2="316.18" stroke="#000" stroke-width="0.8"/>
<line x1="302.7" y1="314.86" x2="304.5" y2="314.86" stroke="#000" stroke-width="0.9"/>
<rect x="307.35" y="314.35" width="2.9" height="53.25" fill="#1f3b70"/>
<line x1="308.8" y1="310.86" x2="308.8" y2="314.35" stroke="#000" stroke-width="0.8"/>
<line x1="307.9" y1="311.16" x2="309.7" y2="311.16" stroke="#000" stroke-width="0.9"/>
<rect x="312.55" y="316.18" width="2.9" height="51.42" fill="#1f3b70"/>
<line x1="314" y1="314.35" x2="314" y2="316.18" stroke="#000" stroke-width="0.8"/>
<line x1="313.1" y1="314.65" x2="314.9" y2="314.65" stroke="#000" stroke-width="0.9"/>
<path d="M200.4 287.15V367.6H318.4" fill="none" stroke="#1a1a1a" stroke-width="1.25"/>
<line x1="197.6" y1="367.6" x2="200.4" y2="367.6" stroke="#1a1a1a" stroke-width="1"/>
<text x="194.4" y="370" class="tk" text-anchor="end">0.0</text>
<line x1="197.6" y1="341.55" x2="200.4" y2="341.55" stroke="#1a1a1a" stroke-width="1"/>
<text x="194.4" y="343.95" class="tk" text-anchor="end">0.5</text>
<line x1="197.6" y1="315.5" x2="200.4" y2="315.5" stroke="#1a1a1a" stroke-width="1"/>
<text x="194.4" y="317.9" class="tk" text-anchor="end">1.0</text>
<line x1="197.6" y1="289.45" x2="200.4" y2="289.45" stroke="#1a1a1a" stroke-width="1"/>
<text x="194.4" y="291.85" class="tk" text-anchor="end">1.5</text>
<line x1="204.3" y1="367.6" x2="204.3" y2="371" stroke="#1a1a1a" stroke-width="0.8"/>
<text class="xt" text-anchor="end" transform="translate(207.3 375.6) rotate(-45)">0</text>
<line x1="209.5" y1="367.6" x2="209.5" y2="371" stroke="#1a1a1a" stroke-width="0.8"/>
<text class="xt" text-anchor="end" transform="translate(212.5 375.6) rotate(-45)">2</text>
<line x1="214.7" y1="367.6" x2="214.7" y2="371" stroke="#1a1a1a" stroke-width="0.8"/>
<text class="xt" text-anchor="end" transform="translate(217.7 375.6) rotate(-45)">4</text>
<line x1="219.9" y1="367.6" x2="219.9" y2="371" stroke="#1a1a1a" stroke-width="0.8"/>
<text class="xt" text-anchor="end" transform="translate(222.9 375.6) rotate(-45)">6</text>
<line x1="225.1" y1="367.6" x2="225.1" y2="371" stroke="#1a1a1a" stroke-width="0.8"/>
<text class="xt" text-anchor="end" transform="translate(228.1 375.6) rotate(-45)">8</text>
<line x1="230.3" y1="367.6" x2="230.3" y2="371" stroke="#1a1a1a" stroke-width="0.8"/>
<text class="xt" text-anchor="end" transform="translate(233.3 375.6) rotate(-45)">10</text>
<line x1="235.5" y1="367.6" x2="235.5" y2="371" stroke="#1a1a1a" stroke-width="0.8"/>
<text class="xt" text-anchor="end" transform="translate(238.5 375.6) rotate(-45)">12</text>
<line x1="243.55" y1="367.6" x2="243.55" y2="371" stroke="#1a1a1a" stroke-width="0.8"/>
<text class="xt" text-anchor="end" transform="translate(246.55 375.6) rotate(-45)">0</text>
<line x1="248.75" y1="367.6" x2="248.75" y2="371" stroke="#1a1a1a" stroke-width="0.8"/>
<text class="xt" text-anchor="end" transform="translate(251.75 375.6) rotate(-45)">2</text>
<line x1="253.95" y1="367.6" x2="253.95" y2="371" stroke="#1a1a1a" stroke-width="0.8"/>
<text class="xt" text-anchor="end" transform="translate(256.95 375.6) rotate(-45)">4</text>
<line x1="259.15" y1="367.6" x2="259.15" y2="371" stroke="#1a1a1a" stroke-width="0.8"/>
<text class="xt" text-anchor="end" transform="translate(262.15 375.6) rotate(-45)">6</text>
<line x1="264.35" y1="367.6" x2="264.35" y2="371" stroke="#1a1a1a" stroke-width="0.8"/>
<text class="xt" text-anchor="end" transform="translate(267.35 375.6) rotate(-45)">8</text>
<line x1="269.55" y1="367.6" x2="269.55" y2="371" stroke="#1a1a1a" stroke-width="0.8"/>
<text class="xt" text-anchor="end" transform="translate(272.55 375.6) rotate(-45)">10</text>
<line x1="274.75" y1="367.6" x2="274.75" y2="371" stroke="#1a1a1a" stroke-width="0.8"/>
<text class="xt" text-anchor="end" transform="translate(277.75 375.6) rotate(-45)">12</text>
<line x1="282.8" y1="367.6" x2="282.8" y2="371" stroke="#1a1a1a" stroke-width="0.8"/>
<text class="xt" text-anchor="end" transform="translate(285.8 375.6) rotate(-45)">0</text>
<line x1="288" y1="367.6" x2="288" y2="371" stroke="#1a1a1a" stroke-width="0.8"/>
<text class="xt" text-anchor="end" transform="translate(291 375.6) rotate(-45)">2</text>
<line x1="293.2" y1="367.6" x2="293.2" y2="371" stroke="#1a1a1a" stroke-width="0.8"/>
<text class="xt" text-anchor="end" transform="translate(296.2 375.6) rotate(-45)">4</text>
<line x1="298.4" y1="367.6" x2="298.4" y2="371" stroke="#1a1a1a" stroke-width="0.8"/>
<text class="xt" text-anchor="end" transform="translate(301.4 375.6) rotate(-45)">6</text>
<line x1="303.6" y1="367.6" x2="303.6" y2="371" stroke="#1a1a1a" stroke-width="0.8"/>
<text class="xt" text-anchor="end" transform="translate(306.6 375.6) rotate(-45)">8</text>
<line x1="308.8" y1="367.6" x2="308.8" y2="371" stroke="#1a1a1a" stroke-width="0.8"/>
<text class="xt" text-anchor="end" transform="translate(311.8 375.6) rotate(-45)">10</text>
<line x1="314" y1="367.6" x2="314" y2="371" stroke="#1a1a1a" stroke-width="0.8"/>
<text class="xt" text-anchor="end" transform="translate(317 375.6) rotate(-45)">12</text>
<text class="ti" x="259.5" y="281" text-anchor="middle" textLength="19.6" lengthAdjust="spacingAndGlyphs">BJAB</text>
<text x="259.5" y="389.6" class="al" text-anchor="middle" textLength="23.9" lengthAdjust="spacingAndGlyphs">Time [d]</text>
<text class="al" text-anchor="middle" textLength="63.7" lengthAdjust="spacingAndGlyphs" transform="translate(180.5 326.3) rotate(-90)">Normalized cell count</text>
<rect x="357.25" y="315.5" width="2.9" height="52.1" fill="#46145c"/>
<rect x="362.45" y="315.5" width="2.9" height="52.1" fill="#46145c"/>
<line x1="363.9" y1="308.57" x2="363.9" y2="315.5" stroke="#000" stroke-width="0.8"/>
<line x1="363" y1="308.87" x2="364.8" y2="308.87" stroke="#000" stroke-width="0.9"/>
<rect x="367.65" y="315.5" width="2.9" height="52.1" fill="#46145c"/>
<line x1="369.1" y1="312.01" x2="369.1" y2="315.5" stroke="#000" stroke-width="0.8"/>
<line x1="368.2" y1="312.31" x2="370" y2="312.31" stroke="#000" stroke-width="0.9"/>
<rect x="372.85" y="315.5" width="2.9" height="52.1" fill="#46145c"/>
<line x1="374.3" y1="313.21" x2="374.3" y2="315.5" stroke="#000" stroke-width="0.8"/>
<line x1="373.4" y1="313.51" x2="375.2" y2="313.51" stroke="#000" stroke-width="0.9"/>
<rect x="378.05" y="315.5" width="2.9" height="52.1" fill="#46145c"/>
<line x1="379.5" y1="312.01" x2="379.5" y2="315.5" stroke="#000" stroke-width="0.8"/>
<line x1="378.6" y1="312.31" x2="380.4" y2="312.31" stroke="#000" stroke-width="0.9"/>
<rect x="383.25" y="315.5" width="2.9" height="52.1" fill="#46145c"/>
<line x1="384.7" y1="310.81" x2="384.7" y2="315.5" stroke="#000" stroke-width="0.8"/>
<line x1="383.8" y1="311.11" x2="385.6" y2="311.11" stroke="#000" stroke-width="0.9"/>
<rect x="388.45" y="315.5" width="2.9" height="52.1" fill="#46145c"/>
<line x1="389.9" y1="314.56" x2="389.9" y2="315.5" stroke="#000" stroke-width="0.8"/>
<line x1="389" y1="314.86" x2="390.8" y2="314.86" stroke="#000" stroke-width="0.9"/>
<rect x="396.5" y="315.5" width="2.9" height="52.1" fill="#a3001c"/>
<rect x="401.7" y="316.65" width="2.9" height="50.95" fill="#a3001c"/>
<line x1="403.15" y1="312.01" x2="403.15" y2="316.65" stroke="#000" stroke-width="0.8"/>
<line x1="402.25" y1="312.31" x2="404.05" y2="312.31" stroke="#000" stroke-width="0.9"/>
<rect x="406.9" y="315.71" width="2.9" height="51.89" fill="#a3001c"/>
<line x1="408.35" y1="312.01" x2="408.35" y2="315.71" stroke="#000" stroke-width="0.8"/>
<line x1="407.45" y1="312.31" x2="409.25" y2="312.31" stroke="#000" stroke-width="0.9"/>
<rect x="412.1" y="315.71" width="2.9" height="51.89" fill="#a3001c"/>
<line x1="413.55" y1="314.35" x2="413.55" y2="315.71" stroke="#000" stroke-width="0.8"/>
<line x1="412.65" y1="314.65" x2="414.45" y2="314.65" stroke="#000" stroke-width="0.9"/>
<rect x="417.3" y="317.79" width="2.9" height="49.81" fill="#a3001c"/>
<line x1="418.75" y1="316.91" x2="418.75" y2="317.79" stroke="#000" stroke-width="0.8"/>
<line x1="417.85" y1="317.21" x2="419.65" y2="317.21" stroke="#000" stroke-width="0.9"/>
<rect x="422.5" y="318.99" width="2.9" height="48.61" fill="#a3001c"/>
<line x1="423.95" y1="314.35" x2="423.95" y2="318.99" stroke="#000" stroke-width="0.8"/>
<line x1="423.05" y1="314.65" x2="424.85" y2="314.65" stroke="#000" stroke-width="0.9"/>
<rect x="427.7" y="316.18" width="2.9" height="51.42" fill="#a3001c"/>
<line x1="429.15" y1="314.35" x2="429.15" y2="316.18" stroke="#000" stroke-width="0.8"/>
<line x1="428.25" y1="314.65" x2="430.05" y2="314.65" stroke="#000" stroke-width="0.9"/>
<rect x="435.75" y="315.5" width="2.9" height="52.1" fill="#1f3b70"/>
<rect x="440.95" y="317.38" width="2.9" height="50.22" fill="#1f3b70"/>
<line x1="442.4" y1="313.21" x2="442.4" y2="317.38" stroke="#000" stroke-width="0.8"/>
<line x1="441.5" y1="313.51" x2="443.3" y2="313.51" stroke="#000" stroke-width="0.9"/>
<rect x="446.15" y="311.59" width="2.9" height="56.01" fill="#1f3b70"/>
<line x1="447.6" y1="309.93" x2="447.6" y2="311.59" stroke="#000" stroke-width="0.8"/>
<line x1="446.7" y1="310.23" x2="448.5" y2="310.23" stroke="#000" stroke-width="0.9"/>
<rect x="451.35" y="316.18" width="2.9" height="51.42" fill="#1f3b70"/>
<line x1="452.8" y1="314.98" x2="452.8" y2="316.18" stroke="#000" stroke-width="0.8"/>
<line x1="451.9" y1="315.28" x2="453.7" y2="315.28" stroke="#000" stroke-width="0.9"/>
<rect x="456.55" y="318.52" width="2.9" height="49.08" fill="#1f3b70"/>
<line x1="458" y1="316.18" x2="458" y2="318.52" stroke="#000" stroke-width="0.8"/>
<line x1="457.1" y1="316.48" x2="458.9" y2="316.48" stroke="#000" stroke-width="0.9"/>
<rect x="461.75" y="316.65" width="2.9" height="50.95" fill="#1f3b70"/>
<line x1="463.2" y1="316.02" x2="463.2" y2="316.65" stroke="#000" stroke-width="0.8"/>
<line x1="462.3" y1="316.32" x2="464.1" y2="316.32" stroke="#000" stroke-width="0.9"/>
<rect x="466.95" y="314.35" width="2.9" height="53.25" fill="#1f3b70"/>
<line x1="468.4" y1="312.74" x2="468.4" y2="314.35" stroke="#000" stroke-width="0.8"/>
<line x1="467.5" y1="313.04" x2="469.3" y2="313.04" stroke="#000" stroke-width="0.9"/>
<path d="M354.8 287.15V367.6H472.8" fill="none" stroke="#1a1a1a" stroke-width="1.25"/>
<line x1="352" y1="367.6" x2="354.8" y2="367.6" stroke="#1a1a1a" stroke-width="1"/>
<text x="348.8" y="370" class="tk" text-anchor="end">0.0</text>
<line x1="352" y1="341.55" x2="354.8" y2="341.55" stroke="#1a1a1a" stroke-width="1"/>
<text x="348.8" y="343.95" class="tk" text-anchor="end">0.5</text>
<line x1="352" y1="315.5" x2="354.8" y2="315.5" stroke="#1a1a1a" stroke-width="1"/>
<text x="348.8" y="317.9" class="tk" text-anchor="end">1.0</text>
<line x1="352" y1="289.45" x2="354.8" y2="289.45" stroke="#1a1a1a" stroke-width="1"/>
<text x="348.8" y="291.85" class="tk" text-anchor="end">1.5</text>
<line x1="358.7" y1="367.6" x2="358.7" y2="371" stroke="#1a1a1a" stroke-width="0.8"/>
<text class="xt" text-anchor="end" transform="translate(361.7 375.6) rotate(-45)">0</text>
<line x1="363.9" y1="367.6" x2="363.9" y2="371" stroke="#1a1a1a" stroke-width="0.8"/>
<text class="xt" text-anchor="end" transform="translate(366.9 375.6) rotate(-45)">2</text>
<line x1="369.1" y1="367.6" x2="369.1" y2="371" stroke="#1a1a1a" stroke-width="0.8"/>
<text class="xt" text-anchor="end" transform="translate(372.1 375.6) rotate(-45)">4</text>
<line x1="374.3" y1="367.6" x2="374.3" y2="371" stroke="#1a1a1a" stroke-width="0.8"/>
<text class="xt" text-anchor="end" transform="translate(377.3 375.6) rotate(-45)">6</text>
<line x1="379.5" y1="367.6" x2="379.5" y2="371" stroke="#1a1a1a" stroke-width="0.8"/>
<text class="xt" text-anchor="end" transform="translate(382.5 375.6) rotate(-45)">8</text>
<line x1="384.7" y1="367.6" x2="384.7" y2="371" stroke="#1a1a1a" stroke-width="0.8"/>
<text class="xt" text-anchor="end" transform="translate(387.7 375.6) rotate(-45)">10</text>
<line x1="389.9" y1="367.6" x2="389.9" y2="371" stroke="#1a1a1a" stroke-width="0.8"/>
<text class="xt" text-anchor="end" transform="translate(392.9 375.6) rotate(-45)">12</text>
<line x1="397.95" y1="367.6" x2="397.95" y2="371" stroke="#1a1a1a" stroke-width="0.8"/>
<text class="xt" text-anchor="end" transform="translate(400.95 375.6) rotate(-45)">0</text>
<line x1="403.15" y1="367.6" x2="403.15" y2="371" stroke="#1a1a1a" stroke-width="0.8"/>
<text class="xt" text-anchor="end" transform="translate(406.15 375.6) rotate(-45)">2</text>
<line x1="408.35" y1="367.6" x2="408.35" y2="371" stroke="#1a1a1a" stroke-width="0.8"/>
<text class="xt" text-anchor="end" transform="translate(411.35 375.6) rotate(-45)">4</text>
<line x1="413.55" y1="367.6" x2="413.55" y2="371" stroke="#1a1a1a" stroke-width="0.8"/>
<text class="xt" text-anchor="end" transform="translate(416.55 375.6) rotate(-45)">6</text>
<line x1="418.75" y1="367.6" x2="418.75" y2="371" stroke="#1a1a1a" stroke-width="0.8"/>
<text class="xt" text-anchor="end" transform="translate(421.75 375.6) rotate(-45)">8</text>
<line x1="423.95" y1="367.6" x2="423.95" y2="371" stroke="#1a1a1a" stroke-width="0.8"/>
<text class="xt" text-anchor="end" transform="translate(426.95 375.6) rotate(-45)">10</text>
<line x1="429.15" y1="367.6" x2="429.15" y2="371" stroke="#1a1a1a" stroke-width="0.8"/>
<text class="xt" text-anchor="end" transform="translate(432.15 375.6) rotate(-45)">12</text>
<line x1="437.2" y1="367.6" x2="437.2" y2="371" stroke="#1a1a1a" stroke-width="0.8"/>
<text class="xt" text-anchor="end" transform="translate(440.2 375.6) rotate(-45)">0</text>
<line x1="442.4" y1="367.6" x2="442.4" y2="371" stroke="#1a1a1a" stroke-width="0.8"/>
<text class="xt" text-anchor="end" transform="translate(445.4 375.6) rotate(-45)">2</text>
<line x1="447.6" y1="367.6" x2="447.6" y2="371" stroke="#1a1a1a" stroke-width="0.8"/>
<text class="xt" text-anchor="end" transform="translate(450.6 375.6) rotate(-45)">4</text>
<line x1="452.8" y1="367.6" x2="452.8" y2="371" stroke="#1a1a1a" stroke-width="0.8"/>
<text class="xt" text-anchor="end" transform="translate(455.8 375.6) rotate(-45)">6</text>
<line x1="458" y1="367.6" x2="458" y2="371" stroke="#1a1a1a" stroke-width="0.8"/>
<text class="xt" text-anchor="end" transform="translate(461 375.6) rotate(-45)">8</text>
<line x1="463.2" y1="367.6" x2="463.2" y2="371" stroke="#1a1a1a" stroke-width="0.8"/>
<text class="xt" text-anchor="end" transform="translate(466.2 375.6) rotate(-45)">10</text>
<line x1="468.4" y1="367.6" x2="468.4" y2="371" stroke="#1a1a1a" stroke-width="0.8"/>
<text class="xt" text-anchor="end" transform="translate(471.4 375.6) rotate(-45)">12</text>
<text class="ti" x="413.9" y="281" text-anchor="middle" textLength="33.9" lengthAdjust="spacingAndGlyphs">SUDHL-4</text>
<text x="413.9" y="389.6" class="al" text-anchor="middle" textLength="23.9" lengthAdjust="spacingAndGlyphs">Time [d]</text>
<text class="al" text-anchor="middle" textLength="63.7" lengthAdjust="spacingAndGlyphs" transform="translate(334.9 326.3) rotate(-90)">Normalized cell count</text>
<rect x="479.3" y="312.9" width="9.6" height="4.4" fill="#4f2467" stroke="#40145a" stroke-width="0.8"/>
<text class="lg" transform="translate(492.5 317.5) scale(0.86 1)">Solvent</text>
<rect x="479.3" y="324.3" width="9.6" height="4.4" fill="#a6002a" stroke="#98001a" stroke-width="0.8"/>
<text class="lg" transform="translate(492.5 328.9) scale(0.86 1)">CsA</text>
<rect x="479.3" y="335.7" width="9.6" height="4.4" fill="#2f4b7c" stroke="#1c3870" stroke-width="0.8"/>
<text class="lg" transform="translate(492.5 340.3) scale(0.86 1)">FK506</text>
<rect x="48.15" y="574.9" width="2.9" height="52.1" fill="#46145c"/>
<rect x="53.35" y="574.9" width="2.9" height="52.1" fill="#46145c"/>
<line x1="54.8" y1="571.1" x2="54.8" y2="574.9" stroke="#000" stroke-width="0.8"/>
<line x1="53.9" y1="571.4" x2="55.7" y2="571.4" stroke="#000" stroke-width="0.9"/>
<rect x="58.55" y="574.9" width="2.9" height="52.1" fill="#46145c"/>
<line x1="60" y1="569.33" x2="60" y2="574.9" stroke="#000" stroke-width="0.8"/>
<line x1="59.1" y1="569.63" x2="60.9" y2="569.63" stroke="#000" stroke-width="0.9"/>
<rect x="63.75" y="574.9" width="2.9" height="52.1" fill="#46145c"/>
<line x1="65.2" y1="572.82" x2="65.2" y2="574.9" stroke="#000" stroke-width="0.8"/>
<line x1="64.3" y1="573.12" x2="66.1" y2="573.12" stroke="#000" stroke-width="0.9"/>
<rect x="68.95" y="574.9" width="2.9" height="52.1" fill="#46145c"/>
<line x1="70.4" y1="570.21" x2="70.4" y2="574.9" stroke="#000" stroke-width="0.8"/>
<line x1="69.5" y1="570.51" x2="71.3" y2="570.51" stroke="#000" stroke-width="0.9"/>
<rect x="74.15" y="574.9" width="2.9" height="52.1" fill="#46145c"/>
<line x1="75.6" y1="571.1" x2="75.6" y2="574.9" stroke="#000" stroke-width="0.8"/>
<line x1="74.7" y1="571.4" x2="76.5" y2="571.4" stroke="#000" stroke-width="0.9"/>
<rect x="79.35" y="574.9" width="2.9" height="52.1" fill="#46145c"/>
<line x1="80.8" y1="570.21" x2="80.8" y2="574.9" stroke="#000" stroke-width="0.8"/>
<line x1="79.9" y1="570.51" x2="81.7" y2="570.51" stroke="#000" stroke-width="0.9"/>
<rect x="87.75" y="574.9" width="2.9" height="52.1" fill="#a3001c"/>
<rect x="92.95" y="575.42" width="2.9" height="51.58" fill="#a3001c"/>
<line x1="94.4" y1="572.29" x2="94.4" y2="575.42" stroke="#000" stroke-width="0.8"/>
<line x1="93.5" y1="572.59" x2="95.3" y2="572.59" stroke="#000" stroke-width="0.9"/>
<rect x="98.15" y="566.2" width="2.9" height="60.8" fill="#a3001c"/>
<line x1="99.6" y1="560.47" x2="99.6" y2="566.2" stroke="#000" stroke-width="0.8"/>
<line x1="98.7" y1="560.77" x2="100.5" y2="560.77" stroke="#000" stroke-width="0.9"/>
<rect x="103.35" y="562.24" width="2.9" height="64.76" fill="#a3001c"/>
<line x1="104.8" y1="556.66" x2="104.8" y2="562.24" stroke="#000" stroke-width="0.8"/>
<line x1="103.9" y1="556.96" x2="105.7" y2="556.96" stroke="#000" stroke-width="0.9"/>
<rect x="108.55" y="558.91" width="2.9" height="68.09" fill="#a3001c"/>
<line x1="110" y1="556.14" x2="110" y2="558.91" stroke="#000" stroke-width="0.8"/>
<line x1="109.1" y1="556.44" x2="110.9" y2="556.44" stroke="#000" stroke-width="0.9"/>
<rect x="113.75" y="571.1" width="2.9" height="55.9" fill="#a3001c"/>
<line x1="115.2" y1="563.07" x2="115.2" y2="571.1" stroke="#000" stroke-width="0.8"/>
<line x1="114.3" y1="563.37" x2="116.1" y2="563.37" stroke="#000" stroke-width="0.9"/>
<rect x="118.95" y="565.37" width="2.9" height="61.63" fill="#a3001c"/>
<line x1="120.4" y1="562.24" x2="120.4" y2="565.37" stroke="#000" stroke-width="0.8"/>
<line x1="119.5" y1="562.54" x2="121.3" y2="562.54" stroke="#000" stroke-width="0.9"/>
<path d="M45.7 546.55V627H124.9" fill="none" stroke="#1a1a1a" stroke-width="1.25"/>
<line x1="42.9" y1="627" x2="45.7" y2="627" stroke="#1a1a1a" stroke-width="1"/>
<text x="39.7" y="629.4" class="tk" text-anchor="end">0.0</text>
<line x1="42.9" y1="600.95" x2="45.7" y2="600.95" stroke="#1a1a1a" stroke-width="1"/>
<text x="39.7" y="603.35" class="tk" text-anchor="end">0.5</text>
<line x1="42.9" y1="574.9" x2="45.7" y2="574.9" stroke="#1a1a1a" stroke-width="1"/>
<text x="39.7" y="577.3" class="tk" text-anchor="end">1.0</text>
<line x1="42.9" y1="548.85" x2="45.7" y2="548.85" stroke="#1a1a1a" stroke-width="1"/>
<text x="39.7" y="551.25" class="tk" text-anchor="end">1.5</text>
<line x1="49.6" y1="627" x2="49.6" y2="630.4" stroke="#1a1a1a" stroke-width="0.8"/>
<text class="xt" text-anchor="end" transform="translate(52.6 635) rotate(-45)">0</text>
<line x1="54.8" y1="627" x2="54.8" y2="630.4" stroke="#1a1a1a" stroke-width="0.8"/>
<text class="xt" text-anchor="end" transform="translate(57.8 635) rotate(-45)">2</text>
<line x1="60" y1="627" x2="60" y2="630.4" stroke="#1a1a1a" stroke-width="0.8"/>
<text class="xt" text-anchor="end" transform="translate(63 635) rotate(-45)">4</text>
<line x1="65.2" y1="627" x2="65.2" y2="630.4" stroke="#1a1a1a" stroke-width="0.8"/>
<text class="xt" text-anchor="end" transform="translate(68.2 635) rotate(-45)">6</text>
<line x1="70.4" y1="627" x2="70.4" y2="630.4" stroke="#1a1a1a" stroke-width="0.8"/>
<text class="xt" text-anchor="end" transform="translate(73.4 635) rotate(-45)">8</text>
<line x1="75.6" y1="627" x2="75.6" y2="630.4" stroke="#1a1a1a" stroke-width="0.8"/>
<text class="xt" text-anchor="end" transform="translate(78.6 635) rotate(-45)">10</text>
<line x1="80.8" y1="627" x2="80.8" y2="630.4" stroke="#1a1a1a" stroke-width="0.8"/>
<text class="xt" text-anchor="end" transform="translate(83.8 635) rotate(-45)">12</text>
<line x1="89.2" y1="627" x2="89.2" y2="630.4" stroke="#1a1a1a" stroke-width="0.8"/>
<text class="xt" text-anchor="end" transform="translate(92.2 635) rotate(-45)">0</text>
<line x1="94.4" y1="627" x2="94.4" y2="630.4" stroke="#1a1a1a" stroke-width="0.8"/>
<text class="xt" text-anchor="end" transform="translate(97.4 635) rotate(-45)">2</text>
<line x1="99.6" y1="627" x2="99.6" y2="630.4" stroke="#1a1a1a" stroke-width="0.8"/>
<text class="xt" text-anchor="end" transform="translate(102.6 635) rotate(-45)">4</text>
<line x1="104.8" y1="627" x2="104.8" y2="630.4" stroke="#1a1a1a" stroke-width="0.8"/>
<text class="xt" text-anchor="end" transform="translate(107.8 635) rotate(-45)">6</text>
<line x1="110" y1="627" x2="110" y2="630.4" stroke="#1a1a1a" stroke-width="0.8"/>
<text class="xt" text-anchor="end" transform="translate(113 635) rotate(-45)">8</text>
<line x1="115.2" y1="627" x2="115.2" y2="630.4" stroke="#1a1a1a" stroke-width="0.8"/>
<text class="xt" text-anchor="end" transform="translate(118.2 635) rotate(-45)">10</text>
<line x1="120.4" y1="627" x2="120.4" y2="630.4" stroke="#1a1a1a" stroke-width="0.8"/>
<text class="xt" text-anchor="end" transform="translate(123.4 635) rotate(-45)">12</text>
<text class="ti" x="85.35" y="540.4" text-anchor="middle" textLength="18.4" lengthAdjust="spacingAndGlyphs">Z138</text>
<text x="85.35" y="649" class="al" text-anchor="middle" textLength="23.9" lengthAdjust="spacingAndGlyphs">Time [d]</text>
<text class="al" text-anchor="middle" textLength="63.7" lengthAdjust="spacingAndGlyphs" transform="translate(25.8 585.7) rotate(-90)">Normalized cell count</text>
<rect x="163.85" y="574.9" width="2.9" height="52.1" fill="#46145c"/>
<rect x="169.05" y="574.9" width="2.9" height="52.1" fill="#46145c"/>
<line x1="170.5" y1="567.09" x2="170.5" y2="574.9" stroke="#000" stroke-width="0.8"/>
<line x1="169.6" y1="567.38" x2="171.4" y2="567.38" stroke="#000" stroke-width="0.9"/>
<rect x="174.25" y="574.9" width="2.9" height="52.1" fill="#46145c"/>
<line x1="175.7" y1="568.49" x2="175.7" y2="574.9" stroke="#000" stroke-width="0.8"/>
<line x1="174.8" y1="568.79" x2="176.6" y2="568.79" stroke="#000" stroke-width="0.9"/>
<rect x="179.45" y="574.9" width="2.9" height="52.1" fill="#46145c"/>
<line x1="180.9" y1="570.05" x2="180.9" y2="574.9" stroke="#000" stroke-width="0.8"/>
<line x1="180" y1="570.35" x2="181.8" y2="570.35" stroke="#000" stroke-width="0.9"/>
<rect x="184.65" y="574.9" width="2.9" height="52.1" fill="#46145c"/>
<line x1="186.1" y1="566.56" x2="186.1" y2="574.9" stroke="#000" stroke-width="0.8"/>
<line x1="185.2" y1="566.86" x2="187" y2="566.86" stroke="#000" stroke-width="0.9"/>
<rect x="189.85" y="574.9" width="2.9" height="52.1" fill="#46145c"/>
<line x1="191.3" y1="571.41" x2="191.3" y2="574.9" stroke="#000" stroke-width="0.8"/>
<line x1="190.4" y1="571.71" x2="192.2" y2="571.71" stroke="#000" stroke-width="0.9"/>
<rect x="195.05" y="574.9" width="2.9" height="52.1" fill="#46145c"/>
<line x1="196.5" y1="565.89" x2="196.5" y2="574.9" stroke="#000" stroke-width="0.8"/>
<line x1="195.6" y1="566.19" x2="197.4" y2="566.19" stroke="#000" stroke-width="0.9"/>
<rect x="203.45" y="574.9" width="2.9" height="52.1" fill="#a3001c"/>
<rect x="208.65" y="576.1" width="2.9" height="50.9" fill="#a3001c"/>
<line x1="210.1" y1="568.49" x2="210.1" y2="576.1" stroke="#000" stroke-width="0.8"/>
<line x1="209.2" y1="568.79" x2="211" y2="568.79" stroke="#000" stroke-width="0.9"/>
<rect x="213.85" y="564.48" width="2.9" height="62.52" fill="#a3001c"/>
<line x1="215.3" y1="562.24" x2="215.3" y2="564.48" stroke="#000" stroke-width="0.8"/>
<line x1="214.4" y1="562.54" x2="216.2" y2="562.54" stroke="#000" stroke-width="0.9"/>
<rect x="219.05" y="573.18" width="2.9" height="53.82" fill="#a3001c"/>
<line x1="220.5" y1="567.45" x2="220.5" y2="573.18" stroke="#000" stroke-width="0.8"/>
<line x1="219.6" y1="567.75" x2="221.4" y2="567.75" stroke="#000" stroke-width="0.9"/>
<rect x="224.25" y="568.49" width="2.9" height="58.51" fill="#a3001c"/>
<line x1="225.7" y1="566.56" x2="225.7" y2="568.49" stroke="#000" stroke-width="0.8"/>
<line x1="224.8" y1="566.86" x2="226.6" y2="566.86" stroke="#000" stroke-width="0.9"/>
<rect x="229.45" y="568.49" width="2.9" height="58.51" fill="#a3001c"/>
<line x1="230.9" y1="557.19" x2="230.9" y2="568.49" stroke="#000" stroke-width="0.8"/>
<line x1="230" y1="557.49" x2="231.8" y2="557.49" stroke="#000" stroke-width="0.9"/>
<rect x="234.65" y="561.35" width="2.9" height="65.65" fill="#a3001c"/>
<line x1="236.1" y1="553.17" x2="236.1" y2="561.35" stroke="#000" stroke-width="0.8"/>
<line x1="235.2" y1="553.47" x2="237" y2="553.47" stroke="#000" stroke-width="0.9"/>
<path d="M161.4 546.55V627H240.6" fill="none" stroke="#1a1a1a" stroke-width="1.25"/>
<line x1="158.6" y1="627" x2="161.4" y2="627" stroke="#1a1a1a" stroke-width="1"/>
<text x="155.4" y="629.4" class="tk" text-anchor="end">0.0</text>
<line x1="158.6" y1="600.95" x2="161.4" y2="600.95" stroke="#1a1a1a" stroke-width="1"/>
<text x="155.4" y="603.35" class="tk" text-anchor="end">0.5</text>
<line x1="158.6" y1="574.9" x2="161.4" y2="574.9" stroke="#1a1a1a" stroke-width="1"/>
<text x="155.4" y="577.3" class="tk" text-anchor="end">1.0</text>
<line x1="158.6" y1="548.85" x2="161.4" y2="548.85" stroke="#1a1a1a" stroke-width="1"/>
<text x="155.4" y="551.25" class="tk" text-anchor="end">1.5</text>
<line x1="165.3" y1="627" x2="165.3" y2="630.4" stroke="#1a1a1a" stroke-width="0.8"/>
<text class="xt" text-anchor="end" transform="translate(168.3 635) rotate(-45)">0</text>
<line x1="170.5" y1="627" x2="170.5" y2="630.4" stroke="#1a1a1a" stroke-width="0.8"/>
<text class="xt" text-anchor="end" transform="translate(173.5 635) rotate(-45)">2</text>
<line x1="175.7" y1="627" x2="175.7" y2="630.4" stroke="#1a1a1a" stroke-width="0.8"/>
<text class="xt" text-anchor="end" transform="translate(178.7 635) rotate(-45)">4</text>
<line x1="180.9" y1="627" x2="180.9" y2="630.4" stroke="#1a1a1a" stroke-width="0.8"/>
<text class="xt" text-anchor="end" transform="translate(183.9 635) rotate(-45)">6</text>
<line x1="186.1" y1="627" x2="186.1" y2="630.4" stroke="#1a1a1a" stroke-width="0.8"/>
<text class="xt" text-anchor="end" transform="translate(189.1 635) rotate(-45)">8</text>
<line x1="191.3" y1="627" x2="191.3" y2="630.4" stroke="#1a1a1a" stroke-width="0.8"/>
<text class="xt" text-anchor="end" transform="translate(194.3 635) rotate(-45)">10</text>
<line x1="196.5" y1="627" x2="196.5" y2="630.4" stroke="#1a1a1a" stroke-width="0.8"/>
<text class="xt" text-anchor="end" transform="translate(199.5 635) rotate(-45)">12</text>
<line x1="204.9" y1="627" x2="204.9" y2="630.4" stroke="#1a1a1a" stroke-width="0.8"/>
<text class="xt" text-anchor="end" transform="translate(207.9 635) rotate(-45)">0</text>
<line x1="210.1" y1="627" x2="210.1" y2="630.4" stroke="#1a1a1a" stroke-width="0.8"/>
<text class="xt" text-anchor="end" transform="translate(213.1 635) rotate(-45)">2</text>
<line x1="215.3" y1="627" x2="215.3" y2="630.4" stroke="#1a1a1a" stroke-width="0.8"/>
<text class="xt" text-anchor="end" transform="translate(218.3 635) rotate(-45)">4</text>
<line x1="220.5" y1="627" x2="220.5" y2="630.4" stroke="#1a1a1a" stroke-width="0.8"/>
<text class="xt" text-anchor="end" transform="translate(223.5 635) rotate(-45)">6</text>
<line x1="225.7" y1="627" x2="225.7" y2="630.4" stroke="#1a1a1a" stroke-width="0.8"/>
<text class="xt" text-anchor="end" transform="translate(228.7 635) rotate(-45)">8</text>
<line x1="230.9" y1="627" x2="230.9" y2="630.4" stroke="#1a1a1a" stroke-width="0.8"/>
<text class="xt" text-anchor="end" transform="translate(233.9 635) rotate(-45)">10</text>
<line x1="236.1" y1="627" x2="236.1" y2="630.4" stroke="#1a1a1a" stroke-width="0.8"/>
<text class="xt" text-anchor="end" transform="translate(239.1 635) rotate(-45)">12</text>
<text class="ti" x="201.05" y="540.4" text-anchor="middle" textLength="19.1" lengthAdjust="spacingAndGlyphs">Rec-1</text>
<text x="201.05" y="649" class="al" text-anchor="middle" textLength="23.9" lengthAdjust="spacingAndGlyphs">Time [d]</text>
<text class="al" text-anchor="middle" textLength="63.7" lengthAdjust="spacingAndGlyphs" transform="translate(141.5 585.7) rotate(-90)">Normalized cell count</text>
<rect x="279.25" y="574.9" width="2.9" height="52.1" fill="#46145c"/>
<rect x="284.45" y="574.9" width="2.9" height="52.1" fill="#46145c"/>
<line x1="285.9" y1="569.17" x2="285.9" y2="574.9" stroke="#000" stroke-width="0.8"/>
<line x1="285" y1="569.47" x2="286.8" y2="569.47" stroke="#000" stroke-width="0.9"/>
<rect x="289.65" y="574.9" width="2.9" height="52.1" fill="#46145c"/>
<line x1="291.1" y1="572.29" x2="291.1" y2="574.9" stroke="#000" stroke-width="0.8"/>
<line x1="290.2" y1="572.59" x2="292" y2="572.59" stroke="#000" stroke-width="0.9"/>
<rect x="294.85" y="574.9" width="2.9" height="52.1" fill="#46145c"/>
<line x1="296.3" y1="573.49" x2="296.3" y2="574.9" stroke="#000" stroke-width="0.8"/>
<line x1="295.4" y1="573.79" x2="297.2" y2="573.79" stroke="#000" stroke-width="0.9"/>
<rect x="300.05" y="574.9" width="2.9" height="52.1" fill="#46145c"/>
<line x1="301.5" y1="571.41" x2="301.5" y2="574.9" stroke="#000" stroke-width="0.8"/>
<line x1="300.6" y1="571.71" x2="302.4" y2="571.71" stroke="#000" stroke-width="0.9"/>
<rect x="305.25" y="574.9" width="2.9" height="52.1" fill="#46145c"/>
<line x1="306.7" y1="571.93" x2="306.7" y2="574.9" stroke="#000" stroke-width="0.8"/>
<line x1="305.8" y1="572.23" x2="307.6" y2="572.23" stroke="#000" stroke-width="0.9"/>
<rect x="310.45" y="574.9" width="2.9" height="52.1" fill="#46145c"/>
<line x1="311.9" y1="571.41" x2="311.9" y2="574.9" stroke="#000" stroke-width="0.8"/>
<line x1="311" y1="571.71" x2="312.8" y2="571.71" stroke="#000" stroke-width="0.9"/>
<rect x="318.85" y="574.9" width="2.9" height="52.1" fill="#a3001c"/>
<rect x="324.05" y="579.22" width="2.9" height="47.78" fill="#a3001c"/>
<line x1="325.5" y1="578.03" x2="325.5" y2="579.22" stroke="#000" stroke-width="0.8"/>
<line x1="324.6" y1="578.33" x2="326.4" y2="578.33" stroke="#000" stroke-width="0.9"/>
<rect x="329.25" y="583.03" width="2.9" height="43.97" fill="#a3001c"/>
<line x1="330.7" y1="579.59" x2="330.7" y2="583.03" stroke="#000" stroke-width="0.8"/>
<line x1="329.8" y1="579.89" x2="331.6" y2="579.89" stroke="#000" stroke-width="0.9"/>
<rect x="334.45" y="581.31" width="2.9" height="45.69" fill="#a3001c"/>
<line x1="335.9" y1="577.14" x2="335.9" y2="581.31" stroke="#000" stroke-width="0.8"/>
<line x1="335" y1="577.44" x2="336.8" y2="577.44" stroke="#000" stroke-width="0.9"/>
<rect x="339.65" y="582.19" width="2.9" height="44.81" fill="#a3001c"/>
<line x1="341.1" y1="580.11" x2="341.1" y2="582.19" stroke="#000" stroke-width="0.8"/>
<line x1="340.2" y1="580.41" x2="342" y2="580.41" stroke="#000" stroke-width="0.9"/>
<rect x="344.85" y="585.32" width="2.9" height="41.68" fill="#a3001c"/>
<line x1="346.3" y1="581.31" x2="346.3" y2="585.32" stroke="#000" stroke-width="0.8"/>
<line x1="345.4" y1="581.61" x2="347.2" y2="581.61" stroke="#000" stroke-width="0.9"/>
<rect x="350.05" y="581.83" width="2.9" height="45.17" fill="#a3001c"/>
<line x1="351.5" y1="578.03" x2="351.5" y2="581.83" stroke="#000" stroke-width="0.8"/>
<line x1="350.6" y1="578.33" x2="352.4" y2="578.33" stroke="#000" stroke-width="0.9"/>
<path d="M276.8 546.55V627H356" fill="none" stroke="#1a1a1a" stroke-width="1.25"/>
<line x1="274" y1="627" x2="276.8" y2="627" stroke="#1a1a1a" stroke-width="1"/>
<text x="270.8" y="629.4" class="tk" text-anchor="end">0.0</text>
<line x1="274" y1="600.95" x2="276.8" y2="600.95" stroke="#1a1a1a" stroke-width="1"/>
<text x="270.8" y="603.35" class="tk" text-anchor="end">0.5</text>
<line x1="274" y1="574.9" x2="276.8" y2="574.9" stroke="#1a1a1a" stroke-width="1"/>
<text x="270.8" y="577.3" class="tk" text-anchor="end">1.0</text>
<line x1="274" y1="548.85" x2="276.8" y2="548.85" stroke="#1a1a1a" stroke-width="1"/>
<text x="270.8" y="551.25" class="tk" text-anchor="end">1.5</text>
<line x1="280.7" y1="627" x2="280.7" y2="630.4" stroke="#1a1a1a" stroke-width="0.8"/>
<text class="xt" text-anchor="end" transform="translate(283.7 635) rotate(-45)">0</text>
<line x1="285.9" y1="627" x2="285.9" y2="630.4" stroke="#1a1a1a" stroke-width="0.8"/>
<text class="xt" text-anchor="end" transform="translate(288.9 635) rotate(-45)">2</text>
<line x1="291.1" y1="627" x2="291.1" y2="630.4" stroke="#1a1a1a" stroke-width="0.8"/>
<text class="xt" text-anchor="end" transform="translate(294.1 635) rotate(-45)">4</text>
<line x1="296.3" y1="627" x2="296.3" y2="630.4" stroke="#1a1a1a" stroke-width="0.8"/>
<text class="xt" text-anchor="end" transform="translate(299.3 635) rotate(-45)">6</text>
<line x1="301.5" y1="627" x2="301.5" y2="630.4" stroke="#1a1a1a" stroke-width="0.8"/>
<text class="xt" text-anchor="end" transform="translate(304.5 635) rotate(-45)">8</text>
<line x1="306.7" y1="627" x2="306.7" y2="630.4" stroke="#1a1a1a" stroke-width="0.8"/>
<text class="xt" text-anchor="end" transform="translate(309.7 635) rotate(-45)">10</text>
<line x1="311.9" y1="627" x2="311.9" y2="630.4" stroke="#1a1a1a" stroke-width="0.8"/>
<text class="xt" text-anchor="end" transform="translate(314.9 635) rotate(-45)">12</text>
<line x1="320.3" y1="627" x2="320.3" y2="630.4" stroke="#1a1a1a" stroke-width="0.8"/>
<text class="xt" text-anchor="end" transform="translate(323.3 635) rotate(-45)">0</text>
<line x1="325.5" y1="627" x2="325.5" y2="630.4" stroke="#1a1a1a" stroke-width="0.8"/>
<text class="xt" text-anchor="end" transform="translate(328.5 635) rotate(-45)">2</text>
<line x1="330.7" y1="627" x2="330.7" y2="630.4" stroke="#1a1a1a" stroke-width="0.8"/>
<text class="xt" text-anchor="end" transform="translate(333.7 635) rotate(-45)">4</text>
<line x1="335.9" y1="627" x2="335.9" y2="630.4" stroke="#1a1a1a" stroke-width="0.8"/>
<text class="xt" text-anchor="end" transform="translate(338.9 635) rotate(-45)">6</text>
<line x1="341.1" y1="627" x2="341.1" y2="630.4" stroke="#1a1a1a" stroke-width="0.8"/>
<text class="xt" text-anchor="end" transform="translate(344.1 635) rotate(-45)">8</text>
<line x1="346.3" y1="627" x2="346.3" y2="630.4" stroke="#1a1a1a" stroke-width="0.8"/>
<text class="xt" text-anchor="end" transform="translate(349.3 635) rotate(-45)">10</text>
<line x1="351.5" y1="627" x2="351.5" y2="630.4" stroke="#1a1a1a" stroke-width="0.8"/>
<text class="xt" text-anchor="end" transform="translate(354.5 635) rotate(-45)">12</text>
<text class="ti" x="316.45" y="540.4" text-anchor="middle" textLength="21.3" lengthAdjust="spacingAndGlyphs">JVM2</text>
<text x="316.45" y="649" class="al" text-anchor="middle" textLength="23.9" lengthAdjust="spacingAndGlyphs">Time [d]</text>
<text class="al" text-anchor="middle" textLength="63.7" lengthAdjust="spacingAndGlyphs" transform="translate(256.9 585.7) rotate(-90)">Normalized cell count</text>
<rect x="394.95" y="574.9" width="2.9" height="52.1" fill="#46145c"/>
<rect x="400.15" y="574.9" width="2.9" height="52.1" fill="#46145c"/>
<line x1="401.6" y1="573.49" x2="401.6" y2="574.9" stroke="#000" stroke-width="0.8"/>
<line x1="400.7" y1="573.79" x2="402.5" y2="573.79" stroke="#000" stroke-width="0.9"/>
<rect x="405.35" y="574.9" width="2.9" height="52.1" fill="#46145c"/>
<line x1="406.8" y1="573.49" x2="406.8" y2="574.9" stroke="#000" stroke-width="0.8"/>
<line x1="405.9" y1="573.79" x2="407.7" y2="573.79" stroke="#000" stroke-width="0.9"/>
<rect x="410.55" y="574.9" width="2.9" height="52.1" fill="#46145c"/>
<line x1="412" y1="573.49" x2="412" y2="574.9" stroke="#000" stroke-width="0.8"/>
<line x1="411.1" y1="573.79" x2="412.9" y2="573.79" stroke="#000" stroke-width="0.9"/>
<rect x="415.75" y="574.9" width="2.9" height="52.1" fill="#46145c"/>
<line x1="417.2" y1="571.41" x2="417.2" y2="574.9" stroke="#000" stroke-width="0.8"/>
<line x1="416.3" y1="571.71" x2="418.1" y2="571.71" stroke="#000" stroke-width="0.9"/>
<rect x="420.95" y="574.9" width="2.9" height="52.1" fill="#46145c"/>
<line x1="422.4" y1="573.49" x2="422.4" y2="574.9" stroke="#000" stroke-width="0.8"/>
<line x1="421.5" y1="573.79" x2="423.3" y2="573.79" stroke="#000" stroke-width="0.9"/>
<rect x="426.15" y="574.9" width="2.9" height="52.1" fill="#46145c"/>
<line x1="427.6" y1="573.49" x2="427.6" y2="574.9" stroke="#000" stroke-width="0.8"/>
<line x1="426.7" y1="573.79" x2="428.5" y2="573.79" stroke="#000" stroke-width="0.9"/>
<rect x="434.55" y="574.9" width="2.9" height="52.1" fill="#a3001c"/>
<rect x="439.75" y="576.98" width="2.9" height="50.02" fill="#a3001c"/>
<line x1="441.2" y1="576.1" x2="441.2" y2="576.98" stroke="#000" stroke-width="0.8"/>
<line x1="440.3" y1="576.4" x2="442.1" y2="576.4" stroke="#000" stroke-width="0.9"/>
<rect x="444.95" y="577.5" width="2.9" height="49.49" fill="#a3001c"/>
<line x1="446.4" y1="576.62" x2="446.4" y2="577.5" stroke="#000" stroke-width="0.8"/>
<line x1="445.5" y1="576.92" x2="447.3" y2="576.92" stroke="#000" stroke-width="0.9"/>
<rect x="450.15" y="583.03" width="2.9" height="43.97" fill="#a3001c"/>
<line x1="451.6" y1="580.63" x2="451.6" y2="583.03" stroke="#000" stroke-width="0.8"/>
<line x1="450.7" y1="580.93" x2="452.5" y2="580.93" stroke="#000" stroke-width="0.9"/>
<rect x="455.35" y="583.03" width="2.9" height="43.97" fill="#a3001c"/>
<line x1="456.8" y1="580.63" x2="456.8" y2="583.03" stroke="#000" stroke-width="0.8"/>
<line x1="455.9" y1="580.93" x2="457.7" y2="580.93" stroke="#000" stroke-width="0.9"/>
<rect x="460.55" y="583.55" width="2.9" height="43.45" fill="#a3001c"/>
<line x1="462" y1="580.94" x2="462" y2="583.55" stroke="#000" stroke-width="0.8"/>
<line x1="461.1" y1="581.24" x2="462.9" y2="581.24" stroke="#000" stroke-width="0.9"/>
<rect x="465.75" y="584.8" width="2.9" height="42.2" fill="#a3001c"/>
<line x1="467.2" y1="582.35" x2="467.2" y2="584.8" stroke="#000" stroke-width="0.8"/>
<line x1="466.3" y1="582.65" x2="468.1" y2="582.65" stroke="#000" stroke-width="0.9"/>
<path d="M392.5 546.55V627H471.7" fill="none" stroke="#1a1a1a" stroke-width="1.25"/>
<line x1="389.7" y1="627" x2="392.5" y2="627" stroke="#1a1a1a" stroke-width="1"/>
<text x="386.5" y="629.4" class="tk" text-anchor="end">0.0</text>
<line x1="389.7" y1="600.95" x2="392.5" y2="600.95" stroke="#1a1a1a" stroke-width="1"/>
<text x="386.5" y="603.35" class="tk" text-anchor="end">0.5</text>
<line x1="389.7" y1="574.9" x2="392.5" y2="574.9" stroke="#1a1a1a" stroke-width="1"/>
<text x="386.5" y="577.3" class="tk" text-anchor="end">1.0</text>
<line x1="389.7" y1="548.85" x2="392.5" y2="548.85" stroke="#1a1a1a" stroke-width="1"/>
<text x="386.5" y="551.25" class="tk" text-anchor="end">1.5</text>
<line x1="396.4" y1="627" x2="396.4" y2="630.4" stroke="#1a1a1a" stroke-width="0.8"/>
<text class="xt" text-anchor="end" transform="translate(399.4 635) rotate(-45)">0</text>
<line x1="401.6" y1="627" x2="401.6" y2="630.4" stroke="#1a1a1a" stroke-width="0.8"/>
<text class="xt" text-anchor="end" transform="translate(404.6 635) rotate(-45)">2</text>
<line x1="406.8" y1="627" x2="406.8" y2="630.4" stroke="#1a1a1a" stroke-width="0.8"/>
<text class="xt" text-anchor="end" transform="translate(409.8 635) rotate(-45)">4</text>
<line x1="412" y1="627" x2="412" y2="630.4" stroke="#1a1a1a" stroke-width="0.8"/>
<text class="xt" text-anchor="end" transform="translate(415 635) rotate(-45)">6</text>
<line x1="417.2" y1="627" x2="417.2" y2="630.4" stroke="#1a1a1a" stroke-width="0.8"/>
<text class="xt" text-anchor="end" transform="translate(420.2 635) rotate(-45)">8</text>
<line x1="422.4" y1="627" x2="422.4" y2="630.4" stroke="#1a1a1a" stroke-width="0.8"/>
<text class="xt" text-anchor="end" transform="translate(425.4 635) rotate(-45)">10</text>
<line x1="427.6" y1="627" x2="427.6" y2="630.4" stroke="#1a1a1a" stroke-width="0.8"/>
<text class="xt" text-anchor="end" transform="translate(430.6 635) rotate(-45)">12</text>
<line x1="436" y1="627" x2="436" y2="630.4" stroke="#1a1a1a" stroke-width="0.8"/>
<text class="xt" text-anchor="end" transform="translate(439 635) rotate(-45)">0</text>
<line x1="441.2" y1="627" x2="441.2" y2="630.4" stroke="#1a1a1a" stroke-width="0.8"/>
<text class="xt" text-anchor="end" transform="translate(444.2 635) rotate(-45)">2</text>
<line x1="446.4" y1="627" x2="446.4" y2="630.4" stroke="#1a1a1a" stroke-width="0.8"/>
<text class="xt" text-anchor="end" transform="translate(449.4 635) rotate(-45)">4</text>
<line x1="451.6" y1="627" x2="451.6" y2="630.4" stroke="#1a1a1a" stroke-width="0.8"/>
<text class="xt" text-anchor="end" transform="translate(454.6 635) rotate(-45)">6</text>
<line x1="456.8" y1="627" x2="456.8" y2="630.4" stroke="#1a1a1a" stroke-width="0.8"/>
<text class="xt" text-anchor="end" transform="translate(459.8 635) rotate(-45)">8</text>
<line x1="462" y1="627" x2="462" y2="630.4" stroke="#1a1a1a" stroke-width="0.8"/>
<text class="xt" text-anchor="end" transform="translate(465 635) rotate(-45)">10</text>
<line x1="467.2" y1="627" x2="467.2" y2="630.4" stroke="#1a1a1a" stroke-width="0.8"/>
<text class="xt" text-anchor="end" transform="translate(470.2 635) rotate(-45)">12</text>
<text class="ti" x="432.15" y="540.4" text-anchor="middle" textLength="19" lengthAdjust="spacingAndGlyphs">Mino</text>
<text x="432.15" y="649" class="al" text-anchor="middle" textLength="23.9" lengthAdjust="spacingAndGlyphs">Time [d]</text>
<text class="al" text-anchor="middle" textLength="63.7" lengthAdjust="spacingAndGlyphs" transform="translate(372.6 585.7) rotate(-90)">Normalized cell count</text>
<rect x="481.2" y="578.5" width="9.6" height="4.4" fill="#4f2467" stroke="#40145a" stroke-width="0.8"/>
<text class="lg" transform="translate(494.4 583.1) scale(0.86 1)">Solvent</text>
<rect x="481.2" y="589.8" width="9.6" height="4.4" fill="#a6002a" stroke="#98001a" stroke-width="0.8"/>
<text class="lg" transform="translate(494.4 594.4) scale(0.86 1)">CsA</text>
<line x1="53.1" y1="498.24" x2="53.1" y2="498.85" stroke="#000" stroke-width="0.8"/>
<line x1="50.94" y1="498.64" x2="55.26" y2="498.64" stroke="#000" stroke-width="0.9"/>
<rect x="49.6" y="499.35" width="7" height="11.15" fill="#4f2467" stroke="#40145a" stroke-width="1"/>
<line x1="64.6" y1="499.82" x2="64.6" y2="500.06" stroke="#000" stroke-width="0.8"/>
<line x1="62.44" y1="500.22" x2="66.76" y2="500.22" stroke="#000" stroke-width="0.9"/>
<rect x="61.1" y="500.56" width="7" height="9.94" fill="#a6002a" stroke="#98001a" stroke-width="1"/>
<line x1="76.1" y1="500.43" x2="76.1" y2="500.67" stroke="#000" stroke-width="0.8"/>
<line x1="73.94" y1="500.83" x2="78.26" y2="500.83" stroke="#000" stroke-width="0.9"/>
<rect x="72.6" y="501.17" width="7" height="9.33" fill="#2f4b7c" stroke="#1c3870" stroke-width="1"/>
<line x1="95.1" y1="497.03" x2="95.1" y2="498.85" stroke="#000" stroke-width="0.8"/>
<line x1="92.94" y1="497.43" x2="97.26" y2="497.43" stroke="#000" stroke-width="0.9"/>
<rect x="91.6" y="499.35" width="7" height="11.15" fill="#4f2467" stroke="#40145a" stroke-width="1"/>
<line x1="106.6" y1="454.26" x2="106.6" y2="459.61" stroke="#000" stroke-width="0.8"/>
<line x1="104.44" y1="454.66" x2="108.76" y2="454.66" stroke="#000" stroke-width="0.9"/>
<rect x="103.1" y="460.11" width="7" height="50.39" fill="#a6002a" stroke="#98001a" stroke-width="1"/>
<line x1="118.1" y1="426.07" x2="118.1" y2="433.73" stroke="#000" stroke-width="0.8"/>
<line x1="115.94" y1="426.47" x2="120.26" y2="426.47" stroke="#000" stroke-width="0.9"/>
<rect x="114.6" y="434.23" width="7" height="76.27" fill="#2f4b7c" stroke="#1c3870" stroke-width="1"/>
<line x1="137.1" y1="498.85" x2="137.1" y2="499.21" stroke="#000" stroke-width="0.8"/>
<line x1="134.94" y1="499.25" x2="139.26" y2="499.25" stroke="#000" stroke-width="0.9"/>
<rect x="133.6" y="499.71" width="7" height="10.79" fill="#4f2467" stroke="#40145a" stroke-width="1"/>
<line x1="148.6" y1="433.73" x2="148.6" y2="442.6" stroke="#000" stroke-width="0.8"/>
<line x1="146.44" y1="434.13" x2="150.76" y2="434.13" stroke="#000" stroke-width="0.9"/>
<rect x="145.1" y="443.1" width="7" height="67.4" fill="#a6002a" stroke="#98001a" stroke-width="1"/>
<line x1="160.1" y1="432.88" x2="160.1" y2="439.44" stroke="#000" stroke-width="0.8"/>
<line x1="157.94" y1="433.28" x2="162.26" y2="433.28" stroke="#000" stroke-width="0.9"/>
<rect x="156.6" y="439.94" width="7" height="70.56" fill="#2f4b7c" stroke="#1c3870" stroke-width="1"/>
<path d="M43.3 411.4V511H170.1" fill="none" stroke="#1a1a1a" stroke-width="1.25"/>
<line x1="40.5" y1="511" x2="43.3" y2="511" stroke="#1a1a1a" stroke-width="1"/>
<text x="37.7" y="513.2" class="tk" text-anchor="end">0</text>
<line x1="40.5" y1="486.7" x2="43.3" y2="486.7" stroke="#1a1a1a" stroke-width="1"/>
<text x="37.7" y="488.9" class="tk" text-anchor="end">2</text>
<line x1="40.5" y1="462.4" x2="43.3" y2="462.4" stroke="#1a1a1a" stroke-width="1"/>
<text x="37.7" y="464.6" class="tk" text-anchor="end">4</text>
<line x1="40.5" y1="438.1" x2="43.3" y2="438.1" stroke="#1a1a1a" stroke-width="1"/>
<text x="37.7" y="440.3" class="tk" text-anchor="end">6</text>
<line x1="40.5" y1="413.8" x2="43.3" y2="413.8" stroke="#1a1a1a" stroke-width="1"/>
<text x="37.7" y="416" class="tk" text-anchor="end">8</text>
<line x1="64.6" y1="511" x2="64.6" y2="514.3" stroke="#1a1a1a" stroke-width="0.8"/>
<text x="64.6" y="522.6" class="gl" text-anchor="middle">HT</text>
<line x1="106.6" y1="511" x2="106.6" y2="514.3" stroke="#1a1a1a" stroke-width="0.8"/>
<text x="106.6" y="522.6" class="gl" text-anchor="middle">HBL-1</text>
<line x1="148.6" y1="511" x2="148.6" y2="514.3" stroke="#1a1a1a" stroke-width="0.8"/>
<text x="148.6" y="522.6" class="gl" text-anchor="middle">OCI-Ly10</text>
<text class="al" text-anchor="middle" textLength="62" lengthAdjust="spacingAndGlyphs" transform="translate(28.6 461) rotate(-90)">Normalized AV<tspan font-size="4" dy="-2.5">+</tspan><tspan dy="2.5"> cells</tspan></text>
<rect x="179.3" y="447.7" width="9.6" height="4.4" fill="#4f2467" stroke="#40145a" stroke-width="0.8"/>
<text class="lg" transform="translate(192.5 452.3) scale(0.86 1)">Solvent</text>
<rect x="179.3" y="459" width="9.6" height="4.4" fill="#a6002a" stroke="#98001a" stroke-width="0.8"/>
<text class="lg" transform="translate(192.5 463.6) scale(0.86 1)">CsA</text>
<rect x="179.3" y="470.3" width="9.6" height="4.4" fill="#2f4b7c" stroke="#1c3870" stroke-width="0.8"/>
<text class="lg" transform="translate(192.5 474.9) scale(0.86 1)">FK506</text>
<line x1="277.3" y1="471.91" x2="277.3" y2="472.3" stroke="#000" stroke-width="0.8"/>
<line x1="276.14" y1="472.31" x2="278.46" y2="472.31" stroke="#000" stroke-width="0.9"/>
<rect x="275.55" y="472.7" width="3.5" height="38.4" fill="#4f2467" stroke="#40145a" stroke-width="0.8"/>
<line x1="285.4" y1="470.34" x2="285.4" y2="473.87" stroke="#000" stroke-width="0.8"/>
<line x1="284.24" y1="470.74" x2="286.56" y2="470.74" stroke="#000" stroke-width="0.9"/>
<rect x="283.65" y="474.27" width="3.5" height="36.83" fill="#a6002a" stroke="#98001a" stroke-width="0.8"/>
<line x1="293.5" y1="476.61" x2="293.5" y2="477.79" stroke="#000" stroke-width="0.8"/>
<line x1="292.34" y1="477.01" x2="294.66" y2="477.01" stroke="#000" stroke-width="0.9"/>
<rect x="291.75" y="478.19" width="3.5" height="32.91" fill="#2f4b7c" stroke="#1c3870" stroke-width="0.8"/>
<line x1="305.72" y1="468.38" x2="305.72" y2="472.3" stroke="#000" stroke-width="0.8"/>
<line x1="304.56" y1="468.78" x2="306.88" y2="468.78" stroke="#000" stroke-width="0.9"/>
<rect x="303.97" y="472.7" width="3.5" height="38.4" fill="#4f2467" stroke="#40145a" stroke-width="0.8"/>
<line x1="313.82" y1="473.87" x2="313.82" y2="475.04" stroke="#000" stroke-width="0.8"/>
<line x1="312.66" y1="474.27" x2="314.98" y2="474.27" stroke="#000" stroke-width="0.9"/>
<rect x="312.07" y="475.44" width="3.5" height="35.66" fill="#a6002a" stroke="#98001a" stroke-width="0.8"/>
<line x1="321.92" y1="474.26" x2="321.92" y2="477" stroke="#000" stroke-width="0.8"/>
<line x1="320.76" y1="474.66" x2="323.08" y2="474.66" stroke="#000" stroke-width="0.9"/>
<rect x="320.17" y="477.4" width="3.5" height="33.7" fill="#2f4b7c" stroke="#1c3870" stroke-width="0.8"/>
<line x1="334.14" y1="469.95" x2="334.14" y2="472.3" stroke="#000" stroke-width="0.8"/>
<line x1="332.98" y1="470.35" x2="335.3" y2="470.35" stroke="#000" stroke-width="0.9"/>
<rect x="332.39" y="472.7" width="3.5" height="38.4" fill="#4f2467" stroke="#40145a" stroke-width="0.8"/>
<line x1="342.24" y1="431.53" x2="342.24" y2="432.32" stroke="#000" stroke-width="0.8"/>
<line x1="341.08" y1="431.93" x2="343.4" y2="431.93" stroke="#000" stroke-width="0.9"/>
<rect x="340.49" y="432.72" width="3.5" height="78.38" fill="#a6002a" stroke="#98001a" stroke-width="0.8"/>
<line x1="350.34" y1="442.12" x2="350.34" y2="442.7" stroke="#000" stroke-width="0.8"/>
<line x1="349.18" y1="442.52" x2="351.5" y2="442.52" stroke="#000" stroke-width="0.9"/>
<rect x="348.59" y="443.1" width="3.5" height="68" fill="#2f4b7c" stroke="#1c3870" stroke-width="0.8"/>
<line x1="362.56" y1="469.56" x2="362.56" y2="472.3" stroke="#000" stroke-width="0.8"/>
<line x1="361.4" y1="469.96" x2="363.72" y2="469.96" stroke="#000" stroke-width="0.9"/>
<rect x="360.81" y="472.7" width="3.5" height="38.4" fill="#4f2467" stroke="#40145a" stroke-width="0.8"/>
<line x1="370.66" y1="418.6" x2="370.66" y2="419.18" stroke="#000" stroke-width="0.8"/>
<line x1="369.5" y1="419" x2="371.82" y2="419" stroke="#000" stroke-width="0.9"/>
<rect x="368.91" y="419.58" width="3.5" height="91.52" fill="#a6002a" stroke="#98001a" stroke-width="0.8"/>
<line x1="378.76" y1="427.02" x2="378.76" y2="427.81" stroke="#000" stroke-width="0.8"/>
<line x1="377.6" y1="427.42" x2="379.92" y2="427.42" stroke="#000" stroke-width="0.9"/>
<rect x="377.01" y="428.21" width="3.5" height="82.89" fill="#2f4b7c" stroke="#1c3870" stroke-width="0.8"/>
<line x1="390.98" y1="471.12" x2="390.98" y2="472.3" stroke="#000" stroke-width="0.8"/>
<line x1="389.82" y1="471.52" x2="392.14" y2="471.52" stroke="#000" stroke-width="0.9"/>
<rect x="389.23" y="472.7" width="3.5" height="38.4" fill="#4f2467" stroke="#40145a" stroke-width="0.8"/>
<line x1="399.08" y1="419.77" x2="399.08" y2="420.95" stroke="#000" stroke-width="0.8"/>
<line x1="397.92" y1="420.17" x2="400.24" y2="420.17" stroke="#000" stroke-width="0.9"/>
<rect x="397.33" y="421.35" width="3.5" height="89.75" fill="#a6002a" stroke="#98001a" stroke-width="0.8"/>
<line x1="407.18" y1="438.2" x2="407.18" y2="438.59" stroke="#000" stroke-width="0.8"/>
<line x1="406.02" y1="438.6" x2="408.34" y2="438.6" stroke="#000" stroke-width="0.9"/>
<rect x="405.43" y="438.99" width="3.5" height="72.11" fill="#2f4b7c" stroke="#1c3870" stroke-width="0.8"/>
<line x1="419.4" y1="471.91" x2="419.4" y2="472.3" stroke="#000" stroke-width="0.8"/>
<line x1="418.24" y1="472.31" x2="420.56" y2="472.31" stroke="#000" stroke-width="0.9"/>
<rect x="417.65" y="472.7" width="3.5" height="38.4" fill="#4f2467" stroke="#40145a" stroke-width="0.8"/>
<line x1="427.5" y1="430.75" x2="427.5" y2="436.24" stroke="#000" stroke-width="0.8"/>
<line x1="426.34" y1="431.15" x2="428.66" y2="431.15" stroke="#000" stroke-width="0.9"/>
<rect x="425.75" y="436.64" width="3.5" height="74.46" fill="#a6002a" stroke="#98001a" stroke-width="0.8"/>
<line x1="435.6" y1="447.21" x2="435.6" y2="450.35" stroke="#000" stroke-width="0.8"/>
<line x1="434.44" y1="447.61" x2="436.76" y2="447.61" stroke="#000" stroke-width="0.9"/>
<rect x="433.85" y="450.75" width="3.5" height="60.35" fill="#2f4b7c" stroke="#1c3870" stroke-width="0.8"/>
<path d="M270.9 411.1V511.5H442.9" fill="none" stroke="#1a1a1a" stroke-width="1.25"/>
<line x1="268.1" y1="511.5" x2="270.9" y2="511.5" stroke="#1a1a1a" stroke-width="1"/>
<text x="265.3" y="513.7" class="tk" text-anchor="end">0.0</text>
<line x1="268.1" y1="491.9" x2="270.9" y2="491.9" stroke="#1a1a1a" stroke-width="1"/>
<text x="265.3" y="494.1" class="tk" text-anchor="end">0.5</text>
<line x1="268.1" y1="472.3" x2="270.9" y2="472.3" stroke="#1a1a1a" stroke-width="1"/>
<text x="265.3" y="474.5" class="tk" text-anchor="end">1.0</text>
<line x1="268.1" y1="452.7" x2="270.9" y2="452.7" stroke="#1a1a1a" stroke-width="1"/>
<text x="265.3" y="454.9" class="tk" text-anchor="end">1.5</text>
<line x1="268.1" y1="433.1" x2="270.9" y2="433.1" stroke="#1a1a1a" stroke-width="1"/>
<text x="265.3" y="435.3" class="tk" text-anchor="end">2.0</text>
<line x1="268.1" y1="413.5" x2="270.9" y2="413.5" stroke="#1a1a1a" stroke-width="1"/>
<text x="265.3" y="415.7" class="tk" text-anchor="end">2.5</text>
<line x1="285.4" y1="511.5" x2="285.4" y2="514.8" stroke="#1a1a1a" stroke-width="0.8"/>
<text x="285.4" y="522.8" class="gl" text-anchor="middle">BJAB</text>
<line x1="313.82" y1="511.5" x2="313.82" y2="514.8" stroke="#1a1a1a" stroke-width="0.8"/>
<text x="313.82" y="522.8" class="gl" text-anchor="middle">HT</text>
<line x1="342.24" y1="511.5" x2="342.24" y2="514.8" stroke="#1a1a1a" stroke-width="0.8"/>
<text x="342.24" y="522.8" class="gl" text-anchor="middle">HBL-1</text>
<line x1="370.66" y1="511.5" x2="370.66" y2="514.8" stroke="#1a1a1a" stroke-width="0.8"/>
<text x="370.66" y="522.8" class="gl" text-anchor="middle">TMD8</text>
<line x1="399.08" y1="511.5" x2="399.08" y2="514.8" stroke="#1a1a1a" stroke-width="0.8"/>
<text x="399.08" y="522.8" class="gl" text-anchor="middle">OCI-Ly10</text>
<line x1="427.5" y1="511.5" x2="427.5" y2="514.8" stroke="#1a1a1a" stroke-width="0.8"/>
<text x="427.5" y="522.8" class="gl" text-anchor="middle">U2932</text>
<text class="al" text-anchor="middle" textLength="75.2" lengthAdjust="spacingAndGlyphs" transform="translate(251.6 461) rotate(-90)">Normalized DEVD activity</text>
<rect x="451.1" y="447.5" width="9.6" height="4.4" fill="#4f2467" stroke="#40145a" stroke-width="0.8"/>
<text class="lg" transform="translate(464.3 452.1) scale(0.86 1)">Solvent</text>
<rect x="451.1" y="458.8" width="9.6" height="4.4" fill="#a6002a" stroke="#98001a" stroke-width="0.8"/>
<text class="lg" transform="translate(464.3 463.4) scale(0.86 1)">CsA</text>
<rect x="451.1" y="470.1" width="9.6" height="4.4" fill="#2f4b7c" stroke="#1c3870" stroke-width="0.8"/>
<text class="lg" transform="translate(464.3 474.7) scale(0.86 1)">FK506</text>
<line x1="334" y1="416.5" x2="342.1" y2="416.5" stroke="#222" stroke-width="0.8"/>
<text x="338.27" y="416.2" class="st" text-anchor="middle">***</text>
<line x1="334" y1="424.5" x2="350.4" y2="424.5" stroke="#222" stroke-width="0.8"/>
<text x="342.42" y="424.2" class="st" text-anchor="middle">***</text>
<line x1="362.4" y1="405.2" x2="370.5" y2="405.2" stroke="#222" stroke-width="0.8"/>
<text x="366.67" y="404.9" class="st" text-anchor="middle">***</text>
<line x1="362.4" y1="413.2" x2="378.8" y2="413.2" stroke="#222" stroke-width="0.8"/>
<text x="370.82" y="412.9" class="st" text-anchor="middle">***</text>
<line x1="391" y1="405.1" x2="399.1" y2="405.1" stroke="#222" stroke-width="0.8"/>
<text x="395.27" y="404.8" class="st" text-anchor="middle">***</text>
<line x1="391" y1="413.3" x2="407.4" y2="413.3" stroke="#222" stroke-width="0.8"/>
<text x="399.42" y="413" class="st" text-anchor="middle">***</text>
<line x1="419.3" y1="416.5" x2="427.4" y2="416.5" stroke="#222" stroke-width="0.8"/>
<text x="423.57" y="416.2" class="st" text-anchor="middle">**</text>
<line x1="419.3" y1="424.6" x2="435.7" y2="424.6" stroke="#222" stroke-width="0.8"/>
<text x="427.72" y="424.3" class="st" text-anchor="middle">**</text>
</svg>
</body></html>
